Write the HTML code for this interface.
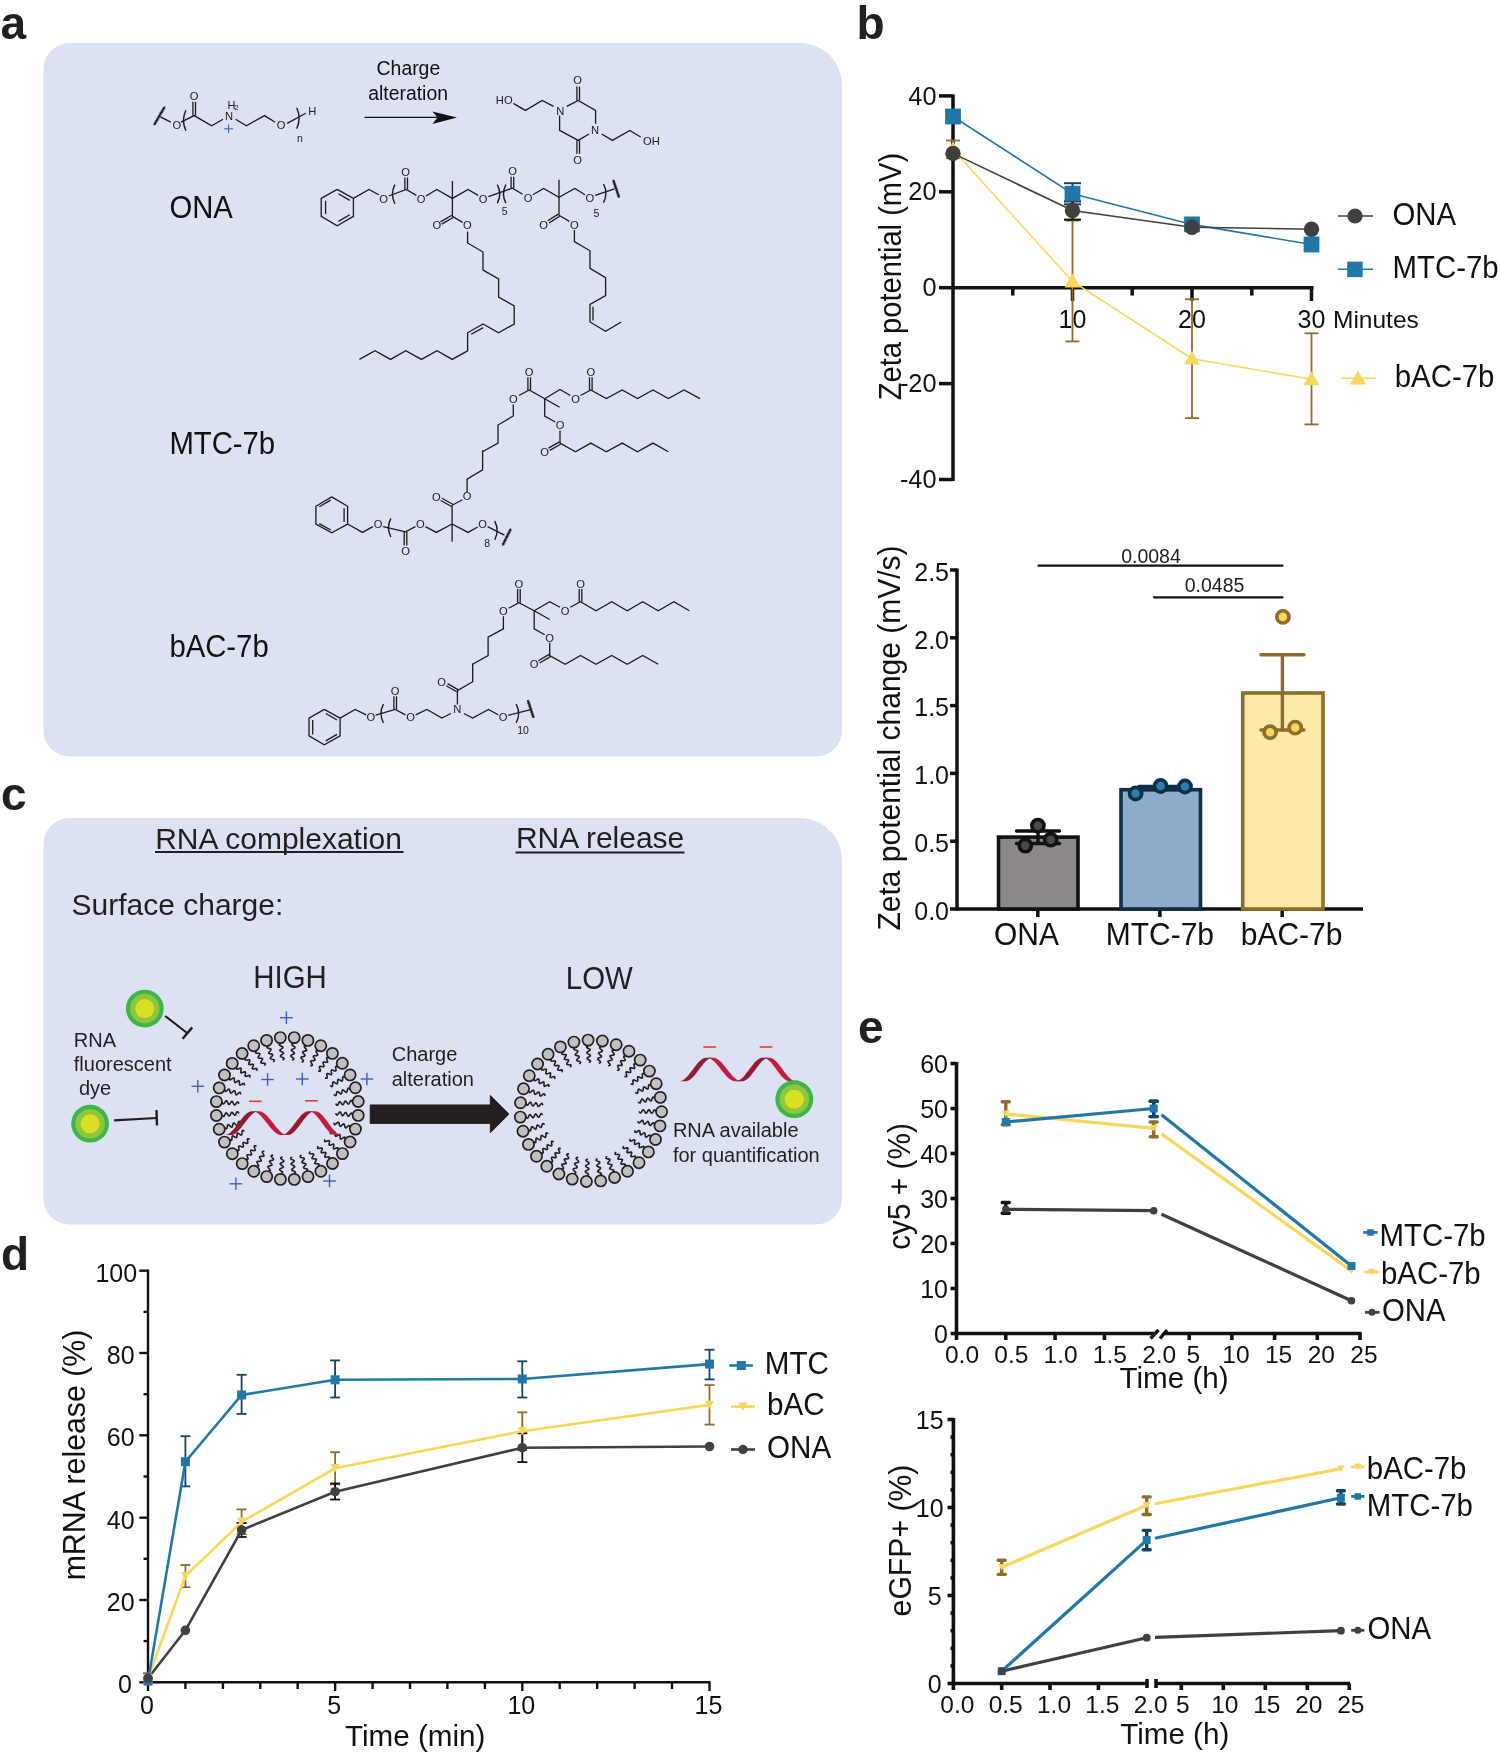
<!DOCTYPE html>
<html><head><meta charset="utf-8"><style>
html,body{margin:0;padding:0;background:#fff;overflow:hidden;}
svg{display:block;font-family:"Liberation Sans", sans-serif;will-change:transform;}
</style></head><body>
<svg width="1500" height="1756" viewBox="0 0 1500 1756">
<rect width="1500" height="1756" fill="#fff"/>
<path d="M69.5,43 L800,43 A42,42 0 0 1 842,85 L842,730.5 A26,26 0 0 1 816,756.5 L69.5,756.5 A26,26 0 0 1 43.5,730.5 L43.5,69 A26,26 0 0 1 69.5,43 Z" fill="#dce1f3"/>
<path d="M69.5,818 L800,818 A42,42 0 0 1 842,860 L842,1198.5 A26,26 0 0 1 816,1224.5 L69.5,1224.5 A26,26 0 0 1 43.5,1198.5 L43.5,844 A26,26 0 0 1 69.5,818 Z" fill="#dce1f3"/>
<text x="0.5" y="39.0" font-size="46" text-anchor="start" fill="#231f20" font-weight="bold" >a</text>
<text x="856.5" y="39.3" font-size="46" text-anchor="start" fill="#231f20" font-weight="bold" >b</text>
<text x="1.0" y="810.0" font-size="46" text-anchor="start" fill="#231f20" font-weight="bold" >c</text>
<text x="1.0" y="1270.0" font-size="46" text-anchor="start" fill="#231f20" font-weight="bold" >d</text>
<text x="858.0" y="1042.5" font-size="46" text-anchor="start" fill="#231f20" font-weight="bold" >e</text>
<line x1="953.0" y1="94.4" x2="953.0" y2="481.0" stroke="#111" stroke-width="3.5" />
<line x1="939.0" y1="95.9" x2="953.0" y2="95.9" stroke="#111" stroke-width="3.5" />
<text x="936.5" y="104.5" font-size="25.3" text-anchor="end" fill="#111" font-weight="normal" >40</text>
<line x1="939.0" y1="191.8" x2="953.0" y2="191.8" stroke="#111" stroke-width="3.5" />
<text x="936.5" y="200.4" font-size="25.3" text-anchor="end" fill="#111" font-weight="normal" >20</text>
<line x1="939.0" y1="287.7" x2="953.0" y2="287.7" stroke="#111" stroke-width="3.5" />
<text x="936.5" y="296.3" font-size="25.3" text-anchor="end" fill="#111" font-weight="normal" >0</text>
<line x1="939.0" y1="383.6" x2="953.0" y2="383.6" stroke="#111" stroke-width="3.5" />
<text x="936.5" y="392.2" font-size="25.3" text-anchor="end" fill="#111" font-weight="normal" >-20</text>
<line x1="939.0" y1="479.5" x2="953.0" y2="479.5" stroke="#111" stroke-width="3.5" />
<text x="936.5" y="488.1" font-size="25.3" text-anchor="end" fill="#111" font-weight="normal" >-40</text>
<line x1="953.0" y1="287.7" x2="1313.5" y2="287.7" stroke="#111" stroke-width="3.5" />
<line x1="1012.8" y1="287.7" x2="1012.8" y2="295.5" stroke="#111" stroke-width="3.5" />
<line x1="1132.2" y1="287.7" x2="1132.2" y2="295.5" stroke="#111" stroke-width="3.5" />
<line x1="1251.8" y1="287.7" x2="1251.8" y2="295.5" stroke="#111" stroke-width="3.5" />
<line x1="1072.5" y1="287.7" x2="1072.5" y2="301.0" stroke="#111" stroke-width="3.5" />
<line x1="1192.0" y1="287.7" x2="1192.0" y2="301.0" stroke="#111" stroke-width="3.5" />
<line x1="1311.5" y1="287.7" x2="1311.5" y2="301.0" stroke="#111" stroke-width="3.5" />
<text x="1072.5" y="327.6" font-size="25" text-anchor="middle" fill="#111" font-weight="normal" >10</text>
<text x="1192.0" y="327.6" font-size="25" text-anchor="middle" fill="#111" font-weight="normal" >20</text>
<text x="1311.5" y="327.6" font-size="25" text-anchor="middle" fill="#111" font-weight="normal" >30</text>
<text x="1333.0" y="327.6" font-size="24.5" text-anchor="start" fill="#111" font-weight="normal" >Minutes</text>
<text transform="translate(901.0,276.5) rotate(-90) scale(1,1.05)" font-size="29.1" text-anchor="middle" fill="#111">Zeta potential (mV)</text>
<line x1="953.0" y1="140.5" x2="953.0" y2="158.2" stroke="#8c6d2c" stroke-width="1.8" />
<line x1="946.0" y1="140.5" x2="960.0" y2="140.5" stroke="#8c6d2c" stroke-width="1.8" />
<line x1="946.0" y1="158.2" x2="960.0" y2="158.2" stroke="#8c6d2c" stroke-width="1.8" />
<line x1="1072.5" y1="220.6" x2="1072.5" y2="341.4" stroke="#8c6d2c" stroke-width="1.8" />
<line x1="1065.5" y1="220.6" x2="1079.5" y2="220.6" stroke="#8c6d2c" stroke-width="1.8" />
<line x1="1065.5" y1="341.4" x2="1079.5" y2="341.4" stroke="#8c6d2c" stroke-width="1.8" />
<line x1="1192.0" y1="299.2" x2="1192.0" y2="418.1" stroke="#8c6d2c" stroke-width="1.8" />
<line x1="1185.0" y1="299.2" x2="1199.0" y2="299.2" stroke="#8c6d2c" stroke-width="1.8" />
<line x1="1185.0" y1="418.1" x2="1199.0" y2="418.1" stroke="#8c6d2c" stroke-width="1.8" />
<line x1="1311.5" y1="333.3" x2="1311.5" y2="424.4" stroke="#8c6d2c" stroke-width="1.8" />
<line x1="1304.5" y1="333.3" x2="1318.5" y2="333.3" stroke="#8c6d2c" stroke-width="1.8" />
<line x1="1304.5" y1="424.4" x2="1318.5" y2="424.4" stroke="#8c6d2c" stroke-width="1.8" />
<polyline points="953.0,149.6 1072.5,281.5 1192.0,358.7 1311.5,379.3" stroke="#fbd65c" stroke-width="1.6" fill="none" />
<line x1="1072.5" y1="183.2" x2="1072.5" y2="204.3" stroke="#15455f" stroke-width="2" />
<line x1="1064.0" y1="183.2" x2="1081.0" y2="183.2" stroke="#15455f" stroke-width="2" />
<line x1="1064.0" y1="204.3" x2="1081.0" y2="204.3" stroke="#15455f" stroke-width="2" />
<line x1="1072.5" y1="201.4" x2="1072.5" y2="219.6" stroke="#111" stroke-width="2" />
<line x1="1064.0" y1="201.4" x2="1081.0" y2="201.4" stroke="#111" stroke-width="2" />
<line x1="1064.0" y1="219.6" x2="1081.0" y2="219.6" stroke="#111" stroke-width="2" />
<polyline points="953.0,116.5 1072.5,193.7 1192.0,224.4 1311.5,244.5" stroke="#2177a7" stroke-width="1.6" fill="none" />
<polyline points="953.0,153.4 1072.5,210.5 1192.0,227.3 1311.5,229.2" stroke="#404040" stroke-width="1.6" fill="none" />
<polygon points="945.0,155.6 961.0,155.6 953.0,141.6" fill="#fbd65c"/>
<polygon points="1064.5,287.4 1080.5,287.4 1072.5,273.5" fill="#fbd65c"/>
<polygon points="1184.0,364.6 1200.0,364.6 1192.0,350.7" fill="#fbd65c"/>
<polygon points="1303.5,385.2 1319.5,385.2 1311.5,371.3" fill="#fbd65c"/>
<rect x="945.1" y="108.6" width="15.8" height="15.8" fill="#2177a7"/>
<rect x="1064.6" y="185.8" width="15.8" height="15.8" fill="#2177a7"/>
<rect x="1184.1" y="216.5" width="15.8" height="15.8" fill="#2177a7"/>
<rect x="1303.6" y="236.6" width="15.8" height="15.8" fill="#2177a7"/>
<circle cx="953.0" cy="153.4" r="7.7" fill="#404040" stroke="none" stroke-width="0"/>
<circle cx="1072.5" cy="210.5" r="7.7" fill="#404040" stroke="none" stroke-width="0"/>
<circle cx="1192.0" cy="227.3" r="7.7" fill="#404040" stroke="none" stroke-width="0"/>
<circle cx="1311.5" cy="229.2" r="7.7" fill="#404040" stroke="none" stroke-width="0"/>
<line x1="1338.0" y1="216.0" x2="1373.0" y2="216.0" stroke="#404040" stroke-width="1.6" />
<circle cx="1355.0" cy="216.0" r="7.6" fill="#404040" stroke="none" stroke-width="0"/>
<text transform="translate(1392.5,225.2) scale(1,1.07)" font-size="29.4" text-anchor="start" fill="#111" font-weight="normal" >ONA</text>
<line x1="1338.0" y1="269.3" x2="1373.0" y2="269.3" stroke="#2177a7" stroke-width="1.6" />
<rect x="1347.2" y="261.6" width="15.5" height="15.5" fill="#2177a7"/>
<text transform="translate(1392.5,277.6) scale(1,1.07)" font-size="29.4" text-anchor="start" fill="#111" font-weight="normal" >MTC-7b</text>
<line x1="1341.0" y1="378.2" x2="1376.0" y2="378.2" stroke="#fbd65c" stroke-width="1.6" />
<polygon points="1350.0,384.5 1366.0,384.5 1358.0,370.5" fill="#fbd65c"/>
<text transform="translate(1394.7,387.0) scale(1,1.07)" font-size="29.4" text-anchor="start" fill="#111" font-weight="normal" >bAC-7b</text>
<line x1="957.0" y1="568.5" x2="957.0" y2="910.5" stroke="#111" stroke-width="3.5" />
<line x1="950.0" y1="909.0" x2="957.0" y2="909.0" stroke="#111" stroke-width="3.5" />
<text x="949.0" y="919.8" font-size="25" text-anchor="end" fill="#111" font-weight="normal" >0.0</text>
<line x1="950.0" y1="841.2" x2="957.0" y2="841.2" stroke="#111" stroke-width="3.5" />
<text x="949.0" y="852.0" font-size="25" text-anchor="end" fill="#111" font-weight="normal" >0.5</text>
<line x1="950.0" y1="773.4" x2="957.0" y2="773.4" stroke="#111" stroke-width="3.5" />
<text x="949.0" y="784.2" font-size="25" text-anchor="end" fill="#111" font-weight="normal" >1.0</text>
<line x1="950.0" y1="705.6" x2="957.0" y2="705.6" stroke="#111" stroke-width="3.5" />
<text x="949.0" y="716.4" font-size="25" text-anchor="end" fill="#111" font-weight="normal" >1.5</text>
<line x1="950.0" y1="637.8" x2="957.0" y2="637.8" stroke="#111" stroke-width="3.5" />
<text x="949.0" y="648.6" font-size="25" text-anchor="end" fill="#111" font-weight="normal" >2.0</text>
<line x1="950.0" y1="570.0" x2="957.0" y2="570.0" stroke="#111" stroke-width="3.5" />
<text x="949.0" y="580.8" font-size="25" text-anchor="end" fill="#111" font-weight="normal" >2.5</text>
<line x1="957.0" y1="909.0" x2="1363.0" y2="909.0" stroke="#111" stroke-width="3.5" />
<line x1="1037.8" y1="909.0" x2="1037.8" y2="917.0" stroke="#111" stroke-width="3.5" />
<line x1="1159.9" y1="909.0" x2="1159.9" y2="917.0" stroke="#111" stroke-width="3.5" />
<line x1="1282.2" y1="909.0" x2="1282.2" y2="917.0" stroke="#111" stroke-width="3.5" />
<text transform="translate(1026.4,944.5) scale(1,1.07)" font-size="30" text-anchor="middle" fill="#111" font-weight="normal" >ONA</text>
<text transform="translate(1159.9,944.5) scale(1,1.07)" font-size="30" text-anchor="middle" fill="#111" font-weight="normal" >MTC-7b</text>
<text transform="translate(1291.6,944.5) scale(1,1.07)" font-size="30" text-anchor="middle" fill="#111" font-weight="normal" >bAC-7b</text>
<text transform="translate(900.0,738.0) rotate(-90) scale(1,1.05)" font-size="30" text-anchor="middle" fill="#111">Zeta potential change (mV/s)</text>
<rect x="998.5" y="837.1" width="79.5" height="71.9" fill="#8c8888" stroke="#111" stroke-width="3.6"/>
<rect x="1121" y="789.7" width="79.5" height="119.3" fill="#8eabcb" stroke="#0b3148" stroke-width="3.6"/>
<rect x="1242.7" y="693.0" width="80.29999999999995" height="216.0" fill="#fde9a8" stroke="#8c6d2c" stroke-width="3.6"/>
<line x1="1282.4" y1="654.7" x2="1282.4" y2="730.0" stroke="#8c6d2c" stroke-width="3.4" />
<line x1="1260.9" y1="654.7" x2="1303.9" y2="654.7" stroke="#8c6d2c" stroke-width="3.4" stroke-linecap="round"/>
<line x1="1260.9" y1="730.0" x2="1303.9" y2="730.0" stroke="#8c6d2c" stroke-width="3.4" stroke-linecap="round"/>
<line x1="1038.0" y1="831.0" x2="1038.0" y2="843.5" stroke="#111" stroke-width="3.4" />
<line x1="1016.5" y1="831.0" x2="1059.5" y2="831.0" stroke="#111" stroke-width="3.4" stroke-linecap="round"/>
<line x1="1016.5" y1="843.5" x2="1059.5" y2="843.5" stroke="#111" stroke-width="3.4" stroke-linecap="round"/>
<line x1="1160.5" y1="786.5" x2="1160.5" y2="789.5" stroke="#0b3148" stroke-width="3.4" />
<line x1="1139.0" y1="786.5" x2="1182.0" y2="786.5" stroke="#0b3148" stroke-width="3.4" stroke-linecap="round"/>
<line x1="1139.0" y1="789.5" x2="1182.0" y2="789.5" stroke="#0b3148" stroke-width="3.4" stroke-linecap="round"/>
<circle cx="1037.9" cy="825.6" r="6.1" fill="#4a4a4a" stroke="#111" stroke-width="3.6"/>
<circle cx="1025.3" cy="845.6" r="6.1" fill="#4a4a4a" stroke="#111" stroke-width="3.6"/>
<circle cx="1050.7" cy="839.7" r="6.1" fill="#4a4a4a" stroke="#111" stroke-width="3.6"/>
<circle cx="1135.6" cy="793.5" r="6.1" fill="#2a7fb0" stroke="#0b3148" stroke-width="3.6"/>
<circle cx="1160.6" cy="786.0" r="6.1" fill="#2a7fb0" stroke="#0b3148" stroke-width="3.6"/>
<circle cx="1185.0" cy="786.5" r="6.1" fill="#2a7fb0" stroke="#0b3148" stroke-width="3.6"/>
<circle cx="1282.9" cy="616.9" r="6.1" fill="#f8d65a" stroke="#8c6d2c" stroke-width="3.6"/>
<circle cx="1270.1" cy="732.2" r="6.1" fill="#f8d65a" stroke="#8c6d2c" stroke-width="3.6"/>
<circle cx="1295.2" cy="727.6" r="6.1" fill="#f8d65a" stroke="#8c6d2c" stroke-width="3.6"/>
<line x1="1038.5" y1="565.7" x2="1282.5" y2="565.7" stroke="#111" stroke-width="2.2" stroke-linecap="round"/>
<line x1="1154.0" y1="597.3" x2="1282.5" y2="597.3" stroke="#111" stroke-width="2.2" stroke-linecap="round"/>
<text x="1151.0" y="563.0" font-size="19.5" text-anchor="middle" fill="#222" font-weight="normal" >0.0084</text>
<text x="1214.6" y="592.4" font-size="19.5" text-anchor="middle" fill="#222" font-weight="normal" >0.0485</text>
<text x="155.2" y="848.7" font-size="30" text-anchor="start" fill="#231f20" font-weight="normal" >RNA complexation</text>
<line x1="155.0" y1="852.0" x2="403.5" y2="852.0" stroke="#231f20" stroke-width="1.8" />
<text x="515.9" y="848.4" font-size="30" text-anchor="start" fill="#231f20" font-weight="normal" >RNA release</text>
<line x1="515.5" y1="852.5" x2="684.5" y2="852.5" stroke="#231f20" stroke-width="1.8" />
<text x="71.5" y="915.3" font-size="30" text-anchor="start" fill="#231f20" font-weight="normal" >Surface charge:</text>
<text transform="translate(253.3,988.0) scale(1,1.07)" font-size="29.4" text-anchor="start" fill="#231f20" font-weight="normal" >HIGH</text>
<text transform="translate(565.8,988.5) scale(1,1.07)" font-size="29.4" text-anchor="start" fill="#231f20" font-weight="normal" >LOW</text>
<text x="73.8" y="1047.0" font-size="20.0" text-anchor="start" fill="#231f20" font-weight="normal" >RNA</text>
<text x="73.8" y="1070.5" font-size="20.0" text-anchor="start" fill="#231f20" font-weight="normal" >fluorescent</text>
<text x="79.0" y="1095.4" font-size="20.0" text-anchor="start" fill="#231f20" font-weight="normal" >dye</text>
<text x="391.7" y="1061.0" font-size="20.0" text-anchor="start" fill="#231f20" font-weight="normal" >Charge</text>
<text x="391.7" y="1085.5" font-size="20.0" text-anchor="start" fill="#231f20" font-weight="normal" >alteration</text>
<text x="672.9" y="1136.9" font-size="20.0" text-anchor="start" fill="#231f20" font-weight="normal" >RNA available</text>
<text x="672.9" y="1161.6" font-size="20.0" text-anchor="start" fill="#231f20" font-weight="normal" >for quantification</text>
<polyline points="293.7,1043.2 292.7,1043.7 292.0,1044.2 291.9,1044.7 292.5,1045.4 293.4,1046.0 294.4,1046.7 294.9,1047.3 294.9,1047.9 294.2,1048.4 293.1,1048.9 292.1,1049.3 291.4,1049.8 291.4,1050.4 291.9,1051.0 292.9,1051.7 293.8,1052.3 294.4,1053.0 294.3,1053.5 293.6,1054.0 292.6,1054.5 291.5,1055.0 290.9,1055.5 290.8,1056.0 291.4,1056.7 292.3,1057.3 293.3,1058.0 293.8,1058.6 293.8,1059.2 293.1,1059.7 292.0,1060.1" stroke="#231f20" stroke-width="1.6" fill="none" />
<polyline points="306.3,1045.7 305.2,1046.0 304.4,1046.3 304.3,1046.9 304.7,1047.6 305.5,1048.4 306.3,1049.3 306.7,1050.0 306.5,1050.5 305.8,1050.9 304.7,1051.1 303.6,1051.4 302.8,1051.8 302.6,1052.3 303.1,1053.0 303.9,1053.9 304.6,1054.7 305.1,1055.4 304.9,1055.9 304.2,1056.3 303.0,1056.6 301.9,1056.8 301.2,1057.2 301.0,1057.7 301.4,1058.4 302.2,1059.3 303.0,1060.1 303.4,1060.8 303.3,1061.4 302.5,1061.7 301.4,1062.0" stroke="#231f20" stroke-width="1.6" fill="none" />
<polyline points="318.2,1050.6 317.1,1050.7 316.2,1050.9 316.0,1051.4 316.2,1052.2 316.9,1053.1 317.5,1054.1 317.8,1054.9 317.5,1055.4 316.7,1055.6 315.5,1055.6 314.4,1055.7 313.6,1055.9 313.3,1056.4 313.6,1057.2 314.2,1058.1 314.8,1059.1 315.1,1059.9 314.8,1060.4 314.0,1060.6 312.9,1060.6 311.7,1060.7 310.9,1060.9 310.6,1061.4 310.9,1062.2 311.5,1063.1 312.1,1064.1 312.4,1064.9 312.2,1065.4 311.3,1065.6 310.2,1065.6" stroke="#231f20" stroke-width="1.6" fill="none" />
<polyline points="328.9,1057.8 327.8,1057.6 326.9,1057.6 326.6,1058.1 326.7,1058.9 327.1,1060.0 327.5,1061.0 327.6,1061.9 327.3,1062.3 326.4,1062.3 325.3,1062.2 324.2,1062.0 323.3,1062.0 323.0,1062.4 323.1,1063.3 323.5,1064.3 323.9,1065.4 324.0,1066.2 323.7,1066.7 322.8,1066.7 321.7,1066.5 320.6,1066.3 319.7,1066.4 319.4,1066.8 319.5,1067.7 319.9,1068.7 320.3,1069.8 320.4,1070.6 320.1,1071.1 319.2,1071.1 318.1,1070.9" stroke="#231f20" stroke-width="1.6" fill="none" />
<polyline points="338.0,1066.9 336.9,1066.4 336.1,1066.3 335.7,1066.7 335.6,1067.5 335.8,1068.7 336.0,1069.8 336.0,1070.6 335.5,1071.0 334.7,1070.9 333.6,1070.5 332.5,1070.0 331.7,1069.9 331.3,1070.3 331.2,1071.1 331.4,1072.3 331.6,1073.4 331.6,1074.2 331.1,1074.6 330.3,1074.5 329.2,1074.1 328.2,1073.6 327.3,1073.5 326.9,1073.9 326.8,1074.7 327.0,1075.9 327.2,1077.0 327.2,1077.8 326.8,1078.2 325.9,1078.1 324.9,1077.7" stroke="#231f20" stroke-width="1.6" fill="none" />
<polyline points="345.1,1077.6 344.2,1076.9 343.4,1076.7 342.9,1076.9 342.7,1077.7 342.6,1078.9 342.6,1080.0 342.4,1080.8 341.9,1081.1 341.1,1080.8 340.1,1080.2 339.2,1079.6 338.4,1079.3 337.9,1079.6 337.7,1080.4 337.6,1081.6 337.6,1082.7 337.4,1083.5 336.9,1083.8 336.1,1083.5 335.1,1082.9 334.2,1082.3 333.4,1082.0 332.9,1082.3 332.7,1083.1 332.6,1084.2 332.6,1085.4 332.4,1086.2 331.9,1086.5 331.1,1086.2 330.2,1085.6" stroke="#231f20" stroke-width="1.6" fill="none" />
<polyline points="350.1,1089.4 349.2,1088.6 348.5,1088.2 348.0,1088.4 347.6,1089.1 347.4,1090.3 347.1,1091.4 346.7,1092.1 346.2,1092.3 345.5,1091.9 344.6,1091.1 343.8,1090.3 343.1,1089.9 342.5,1090.0 342.2,1090.8 341.9,1091.9 341.7,1093.0 341.3,1093.8 340.8,1093.9 340.1,1093.5 339.2,1092.7 338.4,1091.9 337.7,1091.5 337.1,1091.7 336.8,1092.4 336.5,1093.5 336.3,1094.7 335.9,1095.4 335.4,1095.6 334.6,1095.2 333.8,1094.4" stroke="#231f20" stroke-width="1.6" fill="none" />
<polyline points="352.6,1102.0 351.9,1101.1 351.3,1100.5 350.7,1100.6 350.2,1101.3 349.8,1102.3 349.3,1103.4 348.8,1104.0 348.2,1104.1 347.6,1103.5 346.9,1102.6 346.3,1101.7 345.7,1101.1 345.1,1101.2 344.6,1101.8 344.1,1102.9 343.7,1103.9 343.2,1104.6 342.6,1104.7 342.0,1104.1 341.3,1103.2 340.6,1102.2 340.0,1101.7 339.5,1101.7 338.9,1102.4 338.5,1103.4 338.0,1104.5 337.5,1105.2 337.0,1105.2 336.3,1104.7 335.7,1103.7" stroke="#231f20" stroke-width="1.6" fill="none" />
<polyline points="352.6,1114.9 352.1,1113.9 351.6,1113.2 351.1,1113.1 350.4,1113.7 349.8,1114.6 349.1,1115.6 348.5,1116.1 347.9,1116.1 347.4,1115.4 346.9,1114.3 346.5,1113.3 346.0,1112.6 345.4,1112.6 344.8,1113.1 344.1,1114.1 343.5,1115.0 342.8,1115.6 342.3,1115.5 341.8,1114.8 341.3,1113.8 340.8,1112.7 340.3,1112.1 339.8,1112.0 339.1,1112.6 338.5,1113.5 337.8,1114.5 337.2,1115.0 336.6,1115.0 336.1,1114.3 335.7,1113.2" stroke="#231f20" stroke-width="1.6" fill="none" />
<polyline points="350.1,1127.5 349.8,1126.4 349.5,1125.6 348.9,1125.5 348.2,1125.9 347.4,1126.7 346.5,1127.5 345.8,1127.9 345.3,1127.7 344.9,1127.0 344.7,1125.9 344.4,1124.8 344.0,1124.0 343.5,1123.8 342.8,1124.3 341.9,1125.1 341.1,1125.8 340.4,1126.3 339.9,1126.1 339.5,1125.4 339.2,1124.2 339.0,1123.1 338.6,1122.4 338.1,1122.2 337.4,1122.6 336.5,1123.4 335.7,1124.2 335.0,1124.6 334.4,1124.5 334.1,1123.7 333.8,1122.6" stroke="#231f20" stroke-width="1.6" fill="none" />
<polyline points="345.2,1139.4 345.1,1138.3 344.9,1137.4 344.4,1137.2 343.6,1137.4 342.7,1138.1 341.7,1138.7 340.9,1139.0 340.4,1138.7 340.2,1137.9 340.2,1136.7 340.1,1135.6 339.9,1134.8 339.4,1134.5 338.6,1134.8 337.7,1135.4 336.7,1136.0 335.9,1136.3 335.4,1136.0 335.2,1135.2 335.2,1134.1 335.1,1132.9 334.9,1132.1 334.4,1131.8 333.6,1132.1 332.7,1132.7 331.7,1133.3 330.9,1133.6 330.4,1133.4 330.2,1132.5 330.2,1131.4" stroke="#231f20" stroke-width="1.6" fill="none" />
<polyline points="338.0,1150.1 338.2,1149.0 338.2,1148.1 337.7,1147.8 336.9,1147.9 335.8,1148.3 334.8,1148.7 333.9,1148.8 333.5,1148.5 333.5,1147.6 333.6,1146.5 333.8,1145.4 333.8,1144.5 333.4,1144.2 332.5,1144.3 331.5,1144.7 330.4,1145.1 329.6,1145.2 329.1,1144.9 329.1,1144.0 329.3,1142.9 329.5,1141.8 329.4,1140.9 329.0,1140.6 328.1,1140.7 327.1,1141.1 326.0,1141.5 325.2,1141.6 324.7,1141.3 324.7,1140.4 324.9,1139.3" stroke="#231f20" stroke-width="1.6" fill="none" />
<polyline points="328.9,1159.2 329.4,1158.1 329.5,1157.3 329.1,1156.9 328.3,1156.8 327.1,1157.0 326.0,1157.2 325.2,1157.2 324.8,1156.7 324.9,1155.9 325.3,1154.8 325.8,1153.7 325.9,1152.9 325.5,1152.5 324.7,1152.4 323.5,1152.6 322.4,1152.8 321.6,1152.8 321.2,1152.3 321.3,1151.5 321.7,1150.4 322.2,1149.4 322.3,1148.5 321.9,1148.1 321.1,1148.0 319.9,1148.2 318.8,1148.4 318.0,1148.4 317.6,1148.0 317.7,1147.1 318.1,1146.1" stroke="#231f20" stroke-width="1.6" fill="none" />
<polyline points="318.2,1166.3 318.9,1165.4 319.1,1164.6 318.9,1164.1 318.1,1163.9 316.9,1163.8 315.8,1163.8 315.0,1163.6 314.7,1163.1 315.0,1162.3 315.6,1161.3 316.2,1160.4 316.5,1159.6 316.2,1159.1 315.4,1158.9 314.2,1158.8 313.1,1158.8 312.3,1158.6 312.0,1158.1 312.3,1157.3 312.9,1156.3 313.5,1155.4 313.8,1154.6 313.5,1154.1 312.7,1153.9 311.6,1153.8 310.4,1153.8 309.6,1153.6 309.3,1153.1 309.6,1152.3 310.2,1151.4" stroke="#231f20" stroke-width="1.6" fill="none" />
<polyline points="306.4,1171.3 307.2,1170.4 307.6,1169.7 307.4,1169.2 306.7,1168.8 305.5,1168.6 304.4,1168.3 303.7,1167.9 303.5,1167.4 303.9,1166.7 304.7,1165.8 305.5,1165.0 305.9,1164.3 305.8,1163.7 305.0,1163.4 303.9,1163.1 302.8,1162.9 302.0,1162.5 301.9,1162.0 302.3,1161.3 303.1,1160.4 303.9,1159.6 304.3,1158.9 304.1,1158.3 303.4,1158.0 302.3,1157.7 301.1,1157.5 300.4,1157.1 300.2,1156.6 300.6,1155.8 301.4,1155.0" stroke="#231f20" stroke-width="1.6" fill="none" />
<polyline points="293.8,1173.8 294.7,1173.1 295.3,1172.5 295.2,1171.9 294.5,1171.4 293.5,1171.0 292.4,1170.5 291.8,1170.0 291.7,1169.4 292.3,1168.8 293.2,1168.1 294.1,1167.5 294.7,1166.9 294.6,1166.3 294.0,1165.8 292.9,1165.3 291.9,1164.9 291.2,1164.4 291.1,1163.8 291.7,1163.2 292.6,1162.5 293.6,1161.8 294.1,1161.2 294.1,1160.7 293.4,1160.1 292.4,1159.7 291.3,1159.2 290.6,1158.7 290.6,1158.2 291.1,1157.5 292.1,1156.9" stroke="#231f20" stroke-width="1.6" fill="none" />
<polyline points="280.9,1173.8 281.9,1173.3 282.6,1172.8 282.7,1172.3 282.1,1171.6 281.2,1171.0 280.2,1170.3 279.7,1169.7 279.7,1169.1 280.4,1168.6 281.5,1168.1 282.5,1167.7 283.2,1167.2 283.2,1166.6 282.7,1166.0 281.7,1165.3 280.8,1164.7 280.2,1164.0 280.3,1163.5 281.0,1163.0 282.0,1162.5 283.1,1162.0 283.7,1161.5 283.8,1161.0 283.2,1160.3 282.3,1159.7 281.3,1159.0 280.8,1158.4 280.8,1157.8 281.5,1157.3 282.6,1156.9" stroke="#231f20" stroke-width="1.6" fill="none" />
<polyline points="268.3,1171.3 269.4,1171.0 270.2,1170.7 270.3,1170.1 269.9,1169.4 269.1,1168.6 268.3,1167.7 267.9,1167.0 268.1,1166.5 268.8,1166.1 269.9,1165.9 271.0,1165.6 271.8,1165.2 272.0,1164.7 271.5,1164.0 270.7,1163.1 270.0,1162.3 269.5,1161.6 269.7,1161.1 270.4,1160.7 271.6,1160.4 272.7,1160.2 273.4,1159.8 273.6,1159.3 273.2,1158.6 272.4,1157.7 271.6,1156.9 271.2,1156.2 271.3,1155.6 272.1,1155.3 273.2,1155.0" stroke="#231f20" stroke-width="1.6" fill="none" />
<polyline points="256.4,1166.4 257.5,1166.3 258.4,1166.1 258.6,1165.6 258.4,1164.8 257.7,1163.9 257.1,1162.9 256.8,1162.1 257.1,1161.6 257.9,1161.4 259.1,1161.4 260.2,1161.3 261.0,1161.1 261.3,1160.6 261.0,1159.8 260.4,1158.9 259.8,1157.9 259.5,1157.1 259.8,1156.6 260.6,1156.4 261.7,1156.4 262.9,1156.3 263.7,1156.1 264.0,1155.6 263.7,1154.8 263.1,1153.9 262.5,1152.9 262.2,1152.1 262.4,1151.6 263.3,1151.4 264.4,1151.4" stroke="#231f20" stroke-width="1.6" fill="none" />
<polyline points="245.7,1159.2 246.8,1159.4 247.7,1159.4 248.0,1158.9 247.9,1158.1 247.5,1157.0 247.1,1156.0 247.0,1155.1 247.3,1154.7 248.2,1154.7 249.3,1154.8 250.4,1155.0 251.3,1155.0 251.6,1154.6 251.5,1153.7 251.1,1152.7 250.7,1151.6 250.6,1150.8 250.9,1150.3 251.8,1150.3 252.9,1150.5 254.0,1150.7 254.9,1150.6 255.2,1150.2 255.1,1149.3 254.7,1148.3 254.3,1147.2 254.2,1146.4 254.5,1145.9 255.4,1145.9 256.5,1146.1" stroke="#231f20" stroke-width="1.6" fill="none" />
<polyline points="236.6,1150.1 237.7,1150.6 238.5,1150.7 238.9,1150.3 239.0,1149.5 238.8,1148.3 238.6,1147.2 238.6,1146.4 239.1,1146.0 239.9,1146.1 241.0,1146.5 242.1,1147.0 242.9,1147.1 243.3,1146.7 243.4,1145.9 243.2,1144.7 243.0,1143.6 243.0,1142.8 243.5,1142.4 244.3,1142.5 245.4,1142.9 246.4,1143.4 247.3,1143.5 247.7,1143.1 247.8,1142.3 247.6,1141.1 247.4,1140.0 247.4,1139.2 247.8,1138.8 248.7,1138.9 249.7,1139.3" stroke="#231f20" stroke-width="1.6" fill="none" />
<polyline points="229.5,1139.4 230.4,1140.1 231.2,1140.3 231.7,1140.1 231.9,1139.3 232.0,1138.1 232.0,1137.0 232.2,1136.2 232.7,1135.9 233.5,1136.2 234.5,1136.8 235.4,1137.4 236.2,1137.7 236.7,1137.4 236.9,1136.6 237.0,1135.4 237.0,1134.3 237.2,1133.5 237.7,1133.2 238.5,1133.5 239.5,1134.1 240.4,1134.7 241.2,1135.0 241.7,1134.7 241.9,1133.9 242.0,1132.8 242.0,1131.6 242.2,1130.8 242.7,1130.5 243.5,1130.8 244.4,1131.4" stroke="#231f20" stroke-width="1.6" fill="none" />
<polyline points="224.5,1127.6 225.4,1128.4 226.1,1128.8 226.6,1128.6 227.0,1127.9 227.2,1126.7 227.5,1125.6 227.9,1124.9 228.4,1124.7 229.1,1125.1 230.0,1125.9 230.8,1126.7 231.5,1127.1 232.1,1127.0 232.4,1126.2 232.7,1125.1 232.9,1124.0 233.3,1123.2 233.8,1123.1 234.5,1123.5 235.4,1124.3 236.2,1125.1 236.9,1125.5 237.5,1125.3 237.8,1124.6 238.1,1123.5 238.3,1122.3 238.7,1121.6 239.2,1121.4 240.0,1121.8 240.8,1122.6" stroke="#231f20" stroke-width="1.6" fill="none" />
<polyline points="222.0,1115.0 222.7,1115.9 223.3,1116.5 223.9,1116.4 224.4,1115.7 224.8,1114.7 225.3,1113.6 225.8,1113.0 226.4,1112.9 227.0,1113.5 227.7,1114.4 228.3,1115.3 228.9,1115.9 229.5,1115.8 230.0,1115.2 230.5,1114.1 230.9,1113.1 231.4,1112.4 232.0,1112.3 232.6,1112.9 233.3,1113.8 234.0,1114.8 234.6,1115.3 235.1,1115.3 235.7,1114.6 236.1,1113.6 236.6,1112.5 237.1,1111.8 237.6,1111.8 238.3,1112.3 238.9,1113.3" stroke="#231f20" stroke-width="1.6" fill="none" />
<polyline points="222.0,1102.1 222.5,1103.1 223.0,1103.8 223.5,1103.9 224.2,1103.3 224.8,1102.4 225.5,1101.4 226.1,1100.9 226.7,1100.9 227.2,1101.6 227.7,1102.7 228.1,1103.7 228.6,1104.4 229.2,1104.4 229.8,1103.9 230.5,1102.9 231.1,1102.0 231.8,1101.4 232.3,1101.5 232.8,1102.2 233.3,1103.2 233.8,1104.3 234.3,1104.9 234.8,1105.0 235.5,1104.4 236.1,1103.5 236.8,1102.5 237.4,1102.0 238.0,1102.0 238.5,1102.7 238.9,1103.8" stroke="#231f20" stroke-width="1.6" fill="none" />
<polyline points="224.5,1089.5 224.8,1090.6 225.1,1091.4 225.7,1091.5 226.4,1091.1 227.2,1090.3 228.1,1089.5 228.8,1089.1 229.3,1089.3 229.7,1090.0 229.9,1091.1 230.2,1092.2 230.6,1093.0 231.1,1093.2 231.8,1092.7 232.7,1091.9 233.5,1091.2 234.2,1090.7 234.7,1090.9 235.1,1091.6 235.4,1092.8 235.6,1093.9 236.0,1094.6 236.5,1094.8 237.2,1094.4 238.1,1093.6 238.9,1092.8 239.6,1092.4 240.2,1092.5 240.5,1093.3 240.8,1094.4" stroke="#231f20" stroke-width="1.6" fill="none" />
<polyline points="229.4,1077.6 229.5,1078.7 229.7,1079.6 230.2,1079.8 231.0,1079.6 231.9,1078.9 232.9,1078.3 233.7,1078.0 234.2,1078.3 234.4,1079.1 234.4,1080.3 234.5,1081.4 234.7,1082.2 235.2,1082.5 236.0,1082.2 236.9,1081.6 237.9,1081.0 238.7,1080.7 239.2,1081.0 239.4,1081.8 239.4,1082.9 239.5,1084.1 239.7,1084.9 240.2,1085.2 241.0,1084.9 241.9,1084.3 242.9,1083.7 243.7,1083.4 244.2,1083.6 244.4,1084.5 244.4,1085.6" stroke="#231f20" stroke-width="1.6" fill="none" />
<polyline points="236.6,1066.9 236.4,1068.0 236.4,1068.9 236.9,1069.2 237.7,1069.1 238.8,1068.7 239.8,1068.3 240.7,1068.2 241.1,1068.5 241.1,1069.4 241.0,1070.5 240.8,1071.6 240.8,1072.5 241.2,1072.8 242.1,1072.7 243.1,1072.3 244.2,1071.9 245.0,1071.8 245.5,1072.1 245.5,1073.0 245.3,1074.1 245.1,1075.2 245.2,1076.1 245.6,1076.4 246.5,1076.3 247.5,1075.9 248.6,1075.5 249.4,1075.4 249.9,1075.7 249.9,1076.6 249.7,1077.7" stroke="#231f20" stroke-width="1.6" fill="none" />
<polyline points="245.7,1057.8 245.2,1058.9 245.1,1059.7 245.5,1060.1 246.3,1060.2 247.5,1060.0 248.6,1059.8 249.4,1059.8 249.8,1060.3 249.7,1061.1 249.3,1062.2 248.8,1063.3 248.7,1064.1 249.1,1064.5 249.9,1064.6 251.1,1064.4 252.2,1064.2 253.0,1064.2 253.4,1064.7 253.3,1065.5 252.9,1066.6 252.4,1067.6 252.3,1068.5 252.7,1068.9 253.5,1069.0 254.7,1068.8 255.8,1068.6 256.6,1068.6 257.0,1069.0 256.9,1069.9 256.5,1070.9" stroke="#231f20" stroke-width="1.6" fill="none" />
<polyline points="256.4,1050.7 255.7,1051.6 255.5,1052.4 255.7,1052.9 256.5,1053.1 257.7,1053.2 258.8,1053.2 259.6,1053.4 259.9,1053.9 259.6,1054.7 259.0,1055.7 258.4,1056.6 258.1,1057.4 258.4,1057.9 259.2,1058.1 260.4,1058.2 261.5,1058.2 262.3,1058.4 262.6,1058.9 262.3,1059.7 261.7,1060.7 261.1,1061.6 260.8,1062.4 261.1,1062.9 261.9,1063.1 263.0,1063.2 264.2,1063.2 265.0,1063.4 265.3,1063.9 265.0,1064.7 264.4,1065.6" stroke="#231f20" stroke-width="1.6" fill="none" />
<polyline points="268.2,1045.7 267.4,1046.6 267.0,1047.3 267.2,1047.8 267.9,1048.2 269.1,1048.4 270.2,1048.7 270.9,1049.1 271.1,1049.6 270.7,1050.3 269.9,1051.2 269.1,1052.0 268.7,1052.7 268.8,1053.3 269.6,1053.6 270.7,1053.9 271.8,1054.1 272.6,1054.5 272.7,1055.0 272.3,1055.7 271.5,1056.6 270.7,1057.4 270.3,1058.1 270.5,1058.7 271.2,1059.0 272.3,1059.3 273.5,1059.5 274.2,1059.9 274.4,1060.4 274.0,1061.2 273.2,1062.0" stroke="#231f20" stroke-width="1.6" fill="none" />
<polyline points="280.8,1043.2 279.9,1043.9 279.3,1044.5 279.4,1045.1 280.1,1045.6 281.1,1046.0 282.2,1046.5 282.8,1047.0 282.9,1047.6 282.3,1048.2 281.4,1048.9 280.5,1049.5 279.9,1050.1 280.0,1050.7 280.6,1051.2 281.7,1051.7 282.7,1052.1 283.4,1052.6 283.5,1053.2 282.9,1053.8 282.0,1054.5 281.0,1055.2 280.5,1055.8 280.5,1056.3 281.2,1056.9 282.2,1057.3 283.3,1057.8 284.0,1058.3 284.0,1058.8 283.5,1059.5 282.5,1060.1" stroke="#231f20" stroke-width="1.6" fill="none" />
<circle cx="294.2" cy="1037.6" r="5.6" fill="#c0c0c0" stroke="#231f20" stroke-width="1.7"/>
<circle cx="307.9" cy="1040.4" r="5.6" fill="#c0c0c0" stroke="#231f20" stroke-width="1.7"/>
<circle cx="320.8" cy="1045.7" r="5.6" fill="#c0c0c0" stroke="#231f20" stroke-width="1.7"/>
<circle cx="332.4" cy="1053.4" r="5.6" fill="#c0c0c0" stroke="#231f20" stroke-width="1.7"/>
<circle cx="342.3" cy="1063.3" r="5.6" fill="#c0c0c0" stroke="#231f20" stroke-width="1.7"/>
<circle cx="350.1" cy="1074.9" r="5.6" fill="#c0c0c0" stroke="#231f20" stroke-width="1.7"/>
<circle cx="355.4" cy="1087.8" r="5.6" fill="#c0c0c0" stroke="#231f20" stroke-width="1.7"/>
<circle cx="358.2" cy="1101.5" r="5.6" fill="#c0c0c0" stroke="#231f20" stroke-width="1.7"/>
<circle cx="358.2" cy="1115.4" r="5.6" fill="#c0c0c0" stroke="#231f20" stroke-width="1.7"/>
<circle cx="355.4" cy="1129.1" r="5.6" fill="#c0c0c0" stroke="#231f20" stroke-width="1.7"/>
<circle cx="350.1" cy="1142.0" r="5.6" fill="#c0c0c0" stroke="#231f20" stroke-width="1.7"/>
<circle cx="342.4" cy="1153.6" r="5.6" fill="#c0c0c0" stroke="#231f20" stroke-width="1.7"/>
<circle cx="332.5" cy="1163.5" r="5.6" fill="#c0c0c0" stroke="#231f20" stroke-width="1.7"/>
<circle cx="320.9" cy="1171.3" r="5.6" fill="#c0c0c0" stroke="#231f20" stroke-width="1.7"/>
<circle cx="308.0" cy="1176.6" r="5.6" fill="#c0c0c0" stroke="#231f20" stroke-width="1.7"/>
<circle cx="294.3" cy="1179.4" r="5.6" fill="#c0c0c0" stroke="#231f20" stroke-width="1.7"/>
<circle cx="280.4" cy="1179.4" r="5.6" fill="#c0c0c0" stroke="#231f20" stroke-width="1.7"/>
<circle cx="266.7" cy="1176.6" r="5.6" fill="#c0c0c0" stroke="#231f20" stroke-width="1.7"/>
<circle cx="253.8" cy="1171.3" r="5.6" fill="#c0c0c0" stroke="#231f20" stroke-width="1.7"/>
<circle cx="242.2" cy="1163.6" r="5.6" fill="#c0c0c0" stroke="#231f20" stroke-width="1.7"/>
<circle cx="232.3" cy="1153.7" r="5.6" fill="#c0c0c0" stroke="#231f20" stroke-width="1.7"/>
<circle cx="224.5" cy="1142.1" r="5.6" fill="#c0c0c0" stroke="#231f20" stroke-width="1.7"/>
<circle cx="219.2" cy="1129.2" r="5.6" fill="#c0c0c0" stroke="#231f20" stroke-width="1.7"/>
<circle cx="216.4" cy="1115.5" r="5.6" fill="#c0c0c0" stroke="#231f20" stroke-width="1.7"/>
<circle cx="216.4" cy="1101.6" r="5.6" fill="#c0c0c0" stroke="#231f20" stroke-width="1.7"/>
<circle cx="219.2" cy="1087.9" r="5.6" fill="#c0c0c0" stroke="#231f20" stroke-width="1.7"/>
<circle cx="224.5" cy="1075.0" r="5.6" fill="#c0c0c0" stroke="#231f20" stroke-width="1.7"/>
<circle cx="232.2" cy="1063.4" r="5.6" fill="#c0c0c0" stroke="#231f20" stroke-width="1.7"/>
<circle cx="242.1" cy="1053.5" r="5.6" fill="#c0c0c0" stroke="#231f20" stroke-width="1.7"/>
<circle cx="253.7" cy="1045.7" r="5.6" fill="#c0c0c0" stroke="#231f20" stroke-width="1.7"/>
<circle cx="266.6" cy="1040.4" r="5.6" fill="#c0c0c0" stroke="#231f20" stroke-width="1.7"/>
<circle cx="280.3" cy="1037.6" r="5.6" fill="#c0c0c0" stroke="#231f20" stroke-width="1.7"/>
<polyline points="601.4,1046.5 600.4,1046.9 599.7,1047.3 599.6,1047.9 600.1,1048.5 601.0,1049.3 601.9,1050.0 602.4,1050.7 602.3,1051.2 601.6,1051.7 600.5,1052.1 599.4,1052.5 598.7,1052.9 598.7,1053.5 599.2,1054.1 600.1,1054.9 601.0,1055.6 601.5,1056.2 601.4,1056.8 600.7,1057.3 599.6,1057.7 598.5,1058.1 597.8,1058.5 597.7,1059.1 598.2,1059.7 599.1,1060.5 600.0,1061.2 600.5,1061.8 600.5,1062.4 599.8,1062.9 598.7,1063.2" stroke="#231f20" stroke-width="1.6" fill="none" />
<polyline points="614.2,1049.9 613.0,1050.1 612.3,1050.4 612.1,1050.9 612.4,1051.7 613.2,1052.6 613.9,1053.5 614.3,1054.2 614.1,1054.7 613.3,1055.1 612.1,1055.2 611.0,1055.4 610.2,1055.7 610.0,1056.2 610.4,1057.0 611.1,1057.9 611.9,1058.8 612.2,1059.5 612.0,1060.0 611.3,1060.3 610.1,1060.5 609.0,1060.7 608.2,1061.0 608.0,1061.5 608.4,1062.3 609.1,1063.2 609.8,1064.0 610.2,1064.8 610.0,1065.3 609.2,1065.6 608.1,1065.8" stroke="#231f20" stroke-width="1.6" fill="none" />
<polyline points="626.0,1055.9 624.8,1055.8 624.0,1056.0 623.7,1056.4 623.9,1057.3 624.4,1058.3 625.0,1059.3 625.2,1060.1 624.9,1060.6 624.0,1060.7 622.9,1060.7 621.8,1060.6 620.9,1060.7 620.6,1061.2 620.8,1062.0 621.4,1063.0 621.9,1064.1 622.1,1064.9 621.8,1065.4 621.0,1065.5 619.8,1065.4 618.7,1065.4 617.9,1065.5 617.6,1066.0 617.8,1066.8 618.3,1067.8 618.9,1068.8 619.1,1069.6 618.8,1070.1 617.9,1070.3 616.8,1070.2" stroke="#231f20" stroke-width="1.6" fill="none" />
<polyline points="636.3,1064.1 635.2,1063.8 634.3,1063.8 633.9,1064.2 634.0,1065.0 634.3,1066.1 634.6,1067.2 634.7,1068.1 634.3,1068.5 633.4,1068.4 632.3,1068.1 631.2,1067.9 630.4,1067.8 630.0,1068.2 630.0,1069.1 630.4,1070.2 630.7,1071.3 630.7,1072.1 630.3,1072.5 629.5,1072.5 628.4,1072.2 627.3,1071.9 626.4,1071.9 626.0,1072.3 626.1,1073.1 626.4,1074.2 626.7,1075.3 626.8,1076.2 626.4,1076.6 625.5,1076.6 624.4,1076.3" stroke="#231f20" stroke-width="1.6" fill="none" />
<polyline points="644.8,1074.2 643.7,1073.7 642.9,1073.5 642.4,1073.8 642.3,1074.6 642.4,1075.8 642.5,1076.9 642.4,1077.8 641.9,1078.1 641.1,1077.9 640.1,1077.4 639.0,1076.9 638.2,1076.7 637.8,1077.0 637.6,1077.8 637.7,1079.0 637.8,1080.1 637.7,1080.9 637.2,1081.3 636.4,1081.1 635.4,1080.6 634.3,1080.1 633.5,1079.9 633.1,1080.2 632.9,1081.0 633.0,1082.2 633.1,1083.3 633.0,1084.1 632.5,1084.4 631.7,1084.3 630.7,1083.7" stroke="#231f20" stroke-width="1.6" fill="none" />
<polyline points="651.0,1085.8 650.1,1085.1 649.4,1084.8 648.8,1085.0 648.5,1085.8 648.4,1086.9 648.3,1088.0 648.0,1088.8 647.5,1089.0 646.7,1088.7 645.8,1088.0 644.9,1087.3 644.1,1086.9 643.6,1087.1 643.3,1087.9 643.2,1089.1 643.0,1090.2 642.7,1091.0 642.2,1091.2 641.5,1090.9 640.6,1090.2 639.6,1089.4 638.9,1089.1 638.4,1089.3 638.1,1090.1 637.9,1091.2 637.8,1092.4 637.5,1093.2 637.0,1093.4 636.2,1093.0 635.3,1092.3" stroke="#231f20" stroke-width="1.6" fill="none" />
<polyline points="654.8,1098.4 654.1,1097.6 653.4,1097.1 652.8,1097.2 652.4,1097.9 652.0,1099.0 651.7,1100.1 651.2,1100.8 650.7,1100.9 650.0,1100.4 649.3,1099.5 648.5,1098.6 647.8,1098.1 647.3,1098.3 646.8,1099.0 646.5,1100.1 646.1,1101.1 645.7,1101.9 645.1,1102.0 644.4,1101.5 643.7,1100.6 642.9,1099.7 642.3,1099.2 641.7,1099.3 641.3,1100.0 640.9,1101.1 640.5,1102.2 640.1,1102.9 639.5,1103.0 638.9,1102.5 638.1,1101.7" stroke="#231f20" stroke-width="1.6" fill="none" />
<polyline points="656.0,1111.6 655.4,1110.6 654.9,1110.0 654.3,1109.9 653.7,1110.6 653.2,1111.6 652.6,1112.5 652.0,1113.2 651.4,1113.1 650.9,1112.5 650.3,1111.5 649.8,1110.5 649.2,1109.9 648.6,1109.9 648.1,1110.5 647.5,1111.5 646.9,1112.5 646.3,1113.1 645.8,1113.1 645.2,1112.5 644.7,1111.4 644.1,1110.4 643.5,1109.8 643.0,1109.8 642.4,1110.4 641.8,1111.4 641.3,1112.4 640.7,1113.0 640.1,1113.0 639.6,1112.4 639.0,1111.4" stroke="#231f20" stroke-width="1.6" fill="none" />
<polyline points="654.5,1124.7 654.2,1123.6 653.7,1122.9 653.2,1122.8 652.5,1123.2 651.7,1124.1 651.0,1124.9 650.3,1125.4 649.7,1125.3 649.3,1124.6 649.0,1123.5 648.6,1122.4 648.2,1121.7 647.6,1121.5 647.0,1122.0 646.2,1122.9 645.4,1123.7 644.7,1124.2 644.2,1124.1 643.8,1123.4 643.4,1122.3 643.1,1121.2 642.7,1120.5 642.1,1120.3 641.4,1120.8 640.7,1121.7 639.9,1122.5 639.2,1123.0 638.7,1122.9 638.2,1122.2 637.9,1121.1" stroke="#231f20" stroke-width="1.6" fill="none" />
<polyline points="650.4,1137.2 650.3,1136.1 650.0,1135.3 649.5,1135.1 648.7,1135.4 647.8,1136.1 646.9,1136.8 646.1,1137.1 645.6,1136.9 645.3,1136.1 645.2,1134.9 645.1,1133.8 644.8,1133.0 644.3,1132.8 643.6,1133.1 642.6,1133.8 641.7,1134.5 640.9,1134.8 640.4,1134.6 640.2,1133.8 640.0,1132.6 639.9,1131.5 639.7,1130.7 639.1,1130.5 638.4,1130.8 637.5,1131.5 636.5,1132.2 635.8,1132.5 635.2,1132.3 635.0,1131.5 634.9,1130.3" stroke="#231f20" stroke-width="1.6" fill="none" />
<polyline points="643.9,1148.7 644.0,1147.5 643.9,1146.7 643.4,1146.4 642.6,1146.6 641.6,1147.0 640.5,1147.5 639.7,1147.7 639.2,1147.4 639.1,1146.5 639.2,1145.4 639.4,1144.3 639.3,1143.4 638.8,1143.1 638.0,1143.3 636.9,1143.7 635.9,1144.2 635.1,1144.4 634.6,1144.1 634.5,1143.2 634.6,1142.1 634.8,1141.0 634.7,1140.1 634.2,1139.8 633.4,1140.0 632.3,1140.5 631.3,1140.9 630.5,1141.1 630.0,1140.8 629.9,1140.0 630.0,1138.8" stroke="#231f20" stroke-width="1.6" fill="none" />
<polyline points="635.1,1158.6 635.5,1157.5 635.6,1156.7 635.2,1156.2 634.3,1156.3 633.2,1156.5 632.1,1156.8 631.3,1156.8 630.9,1156.4 630.9,1155.5 631.3,1154.4 631.6,1153.3 631.7,1152.5 631.3,1152.1 630.5,1152.1 629.4,1152.4 628.2,1152.6 627.4,1152.6 627.0,1152.2 627.1,1151.4 627.4,1150.3 627.8,1149.2 627.9,1148.4 627.5,1147.9 626.6,1147.9 625.5,1148.2 624.4,1148.5 623.6,1148.5 623.2,1148.1 623.2,1147.2 623.6,1146.1" stroke="#231f20" stroke-width="1.6" fill="none" />
<polyline points="624.6,1166.5 625.2,1165.5 625.4,1164.7 625.1,1164.3 624.3,1164.1 623.1,1164.1 622.0,1164.2 621.2,1164.0 620.9,1163.5 621.1,1162.7 621.7,1161.7 622.2,1160.7 622.5,1159.9 622.2,1159.4 621.4,1159.2 620.2,1159.3 619.1,1159.3 618.2,1159.1 617.9,1158.7 618.2,1157.9 618.7,1156.9 619.3,1155.9 619.5,1155.0 619.2,1154.6 618.4,1154.4 617.3,1154.4 616.1,1154.5 615.3,1154.3 615.0,1153.8 615.2,1153.0 615.8,1152.0" stroke="#231f20" stroke-width="1.6" fill="none" />
<polyline points="612.7,1172.2 613.5,1171.3 613.8,1170.6 613.7,1170.1 612.9,1169.7 611.8,1169.5 610.6,1169.3 609.9,1169.0 609.7,1168.5 610.1,1167.7 610.8,1166.9 611.6,1166.0 611.9,1165.3 611.8,1164.7 611.0,1164.4 609.9,1164.2 608.7,1164.0 607.9,1163.7 607.8,1163.1 608.1,1162.4 608.9,1161.5 609.6,1160.7 610.0,1159.9 609.8,1159.4 609.1,1159.1 607.9,1158.9 606.8,1158.7 606.0,1158.3 605.9,1157.8 606.2,1157.1 607.0,1156.2" stroke="#231f20" stroke-width="1.6" fill="none" />
<polyline points="599.9,1175.4 600.8,1174.7 601.3,1174.0 601.3,1173.5 600.6,1173.0 599.5,1172.6 598.4,1172.1 597.7,1171.7 597.7,1171.1 598.2,1170.5 599.1,1169.8 600.0,1169.1 600.5,1168.4 600.5,1167.8 599.8,1167.4 598.7,1166.9 597.6,1166.5 597.0,1166.0 596.9,1165.5 597.4,1164.8 598.3,1164.1 599.2,1163.4 599.8,1162.8 599.7,1162.2 599.0,1161.8 597.9,1161.3 596.9,1160.9 596.2,1160.4 596.1,1159.9 596.6,1159.2 597.5,1158.5" stroke="#231f20" stroke-width="1.6" fill="none" />
<polyline points="586.7,1175.9 587.7,1175.4 588.4,1174.8 588.4,1174.3 587.9,1173.7 586.9,1173.0 585.9,1172.4 585.3,1171.8 585.4,1171.2 586.0,1170.7 587.1,1170.2 588.1,1169.7 588.8,1169.2 588.8,1168.6 588.2,1168.0 587.2,1167.4 586.3,1166.8 585.7,1166.2 585.7,1165.6 586.4,1165.1 587.4,1164.6 588.5,1164.1 589.1,1163.5 589.1,1163.0 588.6,1162.4 587.6,1161.7 586.6,1161.1 586.1,1160.5 586.1,1159.9 586.7,1159.4 587.8,1158.9" stroke="#231f20" stroke-width="1.6" fill="none" />
<polyline points="573.7,1173.7 574.8,1173.4 575.6,1173.0 575.7,1172.5 575.3,1171.8 574.4,1171.0 573.6,1170.2 573.2,1169.5 573.3,1168.9 574.1,1168.5 575.2,1168.2 576.3,1168.0 577.0,1167.6 577.2,1167.0 576.7,1166.3 575.9,1165.5 575.1,1164.7 574.7,1164.0 574.8,1163.5 575.6,1163.1 576.7,1162.8 577.8,1162.5 578.5,1162.1 578.7,1161.6 578.2,1160.9 577.4,1160.0 576.6,1159.2 576.2,1158.5 576.3,1158.0 577.0,1157.6 578.2,1157.3" stroke="#231f20" stroke-width="1.6" fill="none" />
<polyline points="561.4,1169.0 562.5,1168.9 563.3,1168.7 563.6,1168.2 563.3,1167.4 562.7,1166.5 562.0,1165.5 561.7,1164.7 562.0,1164.2 562.8,1164.0 563.9,1163.9 565.1,1163.9 565.9,1163.6 566.1,1163.1 565.9,1162.4 565.2,1161.4 564.6,1160.4 564.3,1159.7 564.5,1159.2 565.3,1158.9 566.5,1158.9 567.6,1158.8 568.5,1158.6 568.7,1158.1 568.4,1157.3 567.8,1156.3 567.1,1155.4 566.8,1154.6 567.1,1154.1 567.9,1153.9 569.1,1153.8" stroke="#231f20" stroke-width="1.6" fill="none" />
<polyline points="550.3,1161.9 551.4,1162.1 552.2,1162.0 552.6,1161.5 552.5,1160.7 552.0,1159.7 551.6,1158.6 551.5,1157.8 551.8,1157.3 552.7,1157.3 553.8,1157.4 554.9,1157.6 555.8,1157.6 556.1,1157.1 556.0,1156.3 555.6,1155.2 555.1,1154.2 555.0,1153.3 555.3,1152.9 556.2,1152.8 557.3,1153.0 558.5,1153.2 559.3,1153.1 559.6,1152.7 559.5,1151.8 559.1,1150.8 558.6,1149.7 558.5,1148.9 558.9,1148.4 559.7,1148.4 560.8,1148.6" stroke="#231f20" stroke-width="1.6" fill="none" />
<polyline points="540.8,1152.7 541.9,1153.1 542.7,1153.2 543.2,1152.8 543.2,1152.0 543.0,1150.9 542.8,1149.7 542.8,1148.9 543.3,1148.5 544.1,1148.6 545.2,1149.0 546.2,1149.4 547.1,1149.5 547.5,1149.2 547.5,1148.3 547.3,1147.2 547.1,1146.1 547.2,1145.2 547.6,1144.9 548.4,1145.0 549.5,1145.4 550.6,1145.8 551.4,1145.9 551.8,1145.5 551.9,1144.7 551.7,1143.6 551.5,1142.4 551.5,1141.6 551.9,1141.2 552.8,1141.4 553.9,1141.8" stroke="#231f20" stroke-width="1.6" fill="none" />
<polyline points="533.4,1141.8 534.4,1142.4 535.2,1142.6 535.7,1142.4 535.9,1141.6 535.9,1140.4 535.9,1139.3 536.1,1138.4 536.6,1138.2 537.4,1138.5 538.4,1139.1 539.4,1139.7 540.2,1139.9 540.7,1139.7 540.9,1138.9 540.9,1137.7 540.9,1136.6 541.1,1135.8 541.6,1135.5 542.4,1135.8 543.4,1136.4 544.4,1137.0 545.2,1137.3 545.7,1137.0 545.9,1136.2 545.9,1135.0 545.9,1133.9 546.1,1133.1 546.6,1132.8 547.4,1133.1 548.4,1133.7" stroke="#231f20" stroke-width="1.6" fill="none" />
<polyline points="528.4,1129.6 529.2,1130.4 529.9,1130.8 530.5,1130.6 530.8,1129.9 531.1,1128.8 531.3,1127.6 531.7,1126.9 532.2,1126.7 533.0,1127.1 533.8,1127.9 534.6,1128.7 535.3,1129.2 535.9,1129.0 536.2,1128.2 536.5,1127.1 536.8,1126.0 537.1,1125.2 537.7,1125.1 538.4,1125.5 539.2,1126.3 540.0,1127.1 540.8,1127.5 541.3,1127.4 541.7,1126.6 541.9,1125.5 542.2,1124.4 542.5,1123.6 543.1,1123.5 543.8,1123.9 544.6,1124.7" stroke="#231f20" stroke-width="1.6" fill="none" />
<polyline points="525.9,1116.6 526.5,1117.6 527.1,1118.1 527.7,1118.1 528.2,1117.4 528.7,1116.4 529.2,1115.3 529.7,1114.7 530.2,1114.6 530.9,1115.2 531.5,1116.1 532.2,1117.1 532.8,1117.6 533.3,1117.6 533.9,1116.9 534.3,1115.9 534.8,1114.8 535.3,1114.1 535.9,1114.1 536.5,1114.7 537.1,1115.6 537.8,1116.5 538.4,1117.1 539.0,1117.1 539.5,1116.4 540.0,1115.4 540.4,1114.3 541.0,1113.6 541.5,1113.6 542.1,1114.2 542.8,1115.1" stroke="#231f20" stroke-width="1.6" fill="none" />
<polyline points="526.0,1103.4 526.5,1104.5 527.0,1105.2 527.5,1105.2 528.2,1104.7 528.8,1103.7 529.5,1102.8 530.1,1102.3 530.7,1102.3 531.2,1103.0 531.6,1104.1 532.1,1105.1 532.6,1105.8 533.2,1105.9 533.8,1105.3 534.5,1104.4 535.1,1103.5 535.8,1102.9 536.3,1103.0 536.8,1103.6 537.3,1104.7 537.7,1105.8 538.2,1106.4 538.8,1106.5 539.4,1106.0 540.1,1105.0 540.8,1104.1 541.4,1103.5 542.0,1103.6 542.5,1104.3 542.9,1105.3" stroke="#231f20" stroke-width="1.6" fill="none" />
<polyline points="528.8,1090.5 529.1,1091.7 529.4,1092.4 529.9,1092.6 530.7,1092.2 531.5,1091.4 532.4,1090.6 533.1,1090.2 533.6,1090.4 534.0,1091.2 534.2,1092.3 534.4,1093.4 534.8,1094.2 535.3,1094.4 536.1,1093.9 536.9,1093.2 537.8,1092.4 538.5,1092.0 539.0,1092.2 539.4,1092.9 539.6,1094.1 539.8,1095.2 540.2,1095.9 540.7,1096.1 541.4,1095.7 542.3,1094.9 543.1,1094.2 543.9,1093.8 544.4,1093.9 544.8,1094.7 545.0,1095.8" stroke="#231f20" stroke-width="1.6" fill="none" />
<polyline points="534.2,1078.5 534.2,1079.6 534.4,1080.4 534.9,1080.7 535.7,1080.5 536.6,1079.9 537.6,1079.3 538.4,1079.0 538.9,1079.3 539.1,1080.1 539.1,1081.3 539.1,1082.4 539.3,1083.2 539.8,1083.5 540.6,1083.3 541.6,1082.7 542.5,1082.1 543.3,1081.8 543.8,1082.1 544.0,1082.9 544.0,1084.1 544.0,1085.2 544.2,1086.1 544.7,1086.3 545.5,1086.1 546.5,1085.5 547.5,1084.9 548.3,1084.7 548.8,1084.9 548.9,1085.8 548.9,1086.9" stroke="#231f20" stroke-width="1.6" fill="none" />
<polyline points="541.8,1067.7 541.6,1068.9 541.6,1069.7 542.1,1070.1 542.9,1070.0 544.0,1069.6 545.1,1069.2 545.9,1069.1 546.3,1069.5 546.3,1070.4 546.1,1071.5 545.9,1072.6 545.9,1073.4 546.3,1073.8 547.1,1073.7 548.2,1073.4 549.3,1073.0 550.1,1072.9 550.6,1073.3 550.6,1074.1 550.4,1075.2 550.1,1076.3 550.1,1077.2 550.6,1077.6 551.4,1077.5 552.5,1077.1 553.6,1076.7 554.4,1076.6 554.8,1077.0 554.8,1077.8 554.6,1079.0" stroke="#231f20" stroke-width="1.6" fill="none" />
<polyline points="551.5,1058.8 551.1,1059.8 550.9,1060.6 551.2,1061.1 552.1,1061.2 553.2,1061.0 554.4,1060.9 555.2,1061.0 555.5,1061.4 555.4,1062.2 554.9,1063.3 554.5,1064.3 554.3,1065.2 554.7,1065.6 555.5,1065.7 556.6,1065.5 557.8,1065.4 558.6,1065.5 559.0,1065.9 558.8,1066.8 558.3,1067.8 557.9,1068.9 557.7,1069.7 558.1,1070.1 558.9,1070.2 560.1,1070.1 561.2,1069.9 562.0,1070.0 562.4,1070.5 562.2,1071.3 561.8,1072.3" stroke="#231f20" stroke-width="1.6" fill="none" />
<polyline points="562.8,1051.9 562.1,1052.9 561.8,1053.6 562.1,1054.2 562.9,1054.4 564.0,1054.5 565.2,1054.6 566.0,1054.8 566.2,1055.3 565.9,1056.1 565.2,1057.0 564.6,1058.0 564.3,1058.8 564.5,1059.3 565.3,1059.5 566.4,1059.6 567.6,1059.7 568.4,1059.9 568.6,1060.4 568.3,1061.2 567.7,1062.2 567.0,1063.1 566.7,1063.9 566.9,1064.4 567.7,1064.6 568.9,1064.7 570.0,1064.8 570.8,1065.0 571.1,1065.6 570.8,1066.3 570.1,1067.3" stroke="#231f20" stroke-width="1.6" fill="none" />
<polyline points="575.2,1047.5 574.4,1048.3 573.9,1049.0 574.1,1049.5 574.8,1049.9 575.9,1050.2 577.0,1050.6 577.7,1051.0 577.9,1051.5 577.4,1052.2 576.6,1053.0 575.7,1053.8 575.3,1054.5 575.4,1055.0 576.1,1055.4 577.3,1055.7 578.4,1056.1 579.1,1056.5 579.2,1057.0 578.8,1057.7 577.9,1058.5 577.1,1059.3 576.6,1060.0 576.8,1060.5 577.5,1060.9 578.6,1061.2 579.7,1061.6 580.4,1062.0 580.6,1062.5 580.1,1063.2 579.3,1064.0" stroke="#231f20" stroke-width="1.6" fill="none" />
<polyline points="588.3,1045.6 587.3,1046.3 586.7,1046.8 586.7,1047.4 587.4,1048.0 588.4,1048.5 589.4,1049.0 590.1,1049.5 590.1,1050.1 589.5,1050.7 588.5,1051.3 587.5,1051.9 586.9,1052.5 587.0,1053.1 587.6,1053.6 588.6,1054.1 589.6,1054.7 590.3,1055.2 590.3,1055.8 589.7,1056.4 588.7,1057.0 587.7,1057.6 587.1,1058.2 587.2,1058.7 587.8,1059.3 588.8,1059.8 589.8,1060.3 590.5,1060.9 590.5,1061.4 589.9,1062.0 588.9,1062.6" stroke="#231f20" stroke-width="1.6" fill="none" />
<circle cx="602.4" cy="1041.0" r="5.6" fill="#c0c0c0" stroke="#231f20" stroke-width="1.7"/>
<circle cx="616.2" cy="1044.7" r="5.6" fill="#c0c0c0" stroke="#231f20" stroke-width="1.7"/>
<circle cx="629.0" cy="1051.2" r="5.6" fill="#c0c0c0" stroke="#231f20" stroke-width="1.7"/>
<circle cx="640.2" cy="1060.1" r="5.6" fill="#c0c0c0" stroke="#231f20" stroke-width="1.7"/>
<circle cx="649.4" cy="1071.1" r="5.6" fill="#c0c0c0" stroke="#231f20" stroke-width="1.7"/>
<circle cx="656.2" cy="1083.7" r="5.6" fill="#c0c0c0" stroke="#231f20" stroke-width="1.7"/>
<circle cx="660.3" cy="1097.4" r="5.6" fill="#c0c0c0" stroke="#231f20" stroke-width="1.7"/>
<circle cx="661.6" cy="1111.7" r="5.6" fill="#c0c0c0" stroke="#231f20" stroke-width="1.7"/>
<circle cx="660.0" cy="1125.9" r="5.6" fill="#c0c0c0" stroke="#231f20" stroke-width="1.7"/>
<circle cx="655.5" cy="1139.5" r="5.6" fill="#c0c0c0" stroke="#231f20" stroke-width="1.7"/>
<circle cx="648.4" cy="1151.9" r="5.6" fill="#c0c0c0" stroke="#231f20" stroke-width="1.7"/>
<circle cx="639.0" cy="1162.7" r="5.6" fill="#c0c0c0" stroke="#231f20" stroke-width="1.7"/>
<circle cx="627.5" cy="1171.3" r="5.6" fill="#c0c0c0" stroke="#231f20" stroke-width="1.7"/>
<circle cx="614.6" cy="1177.5" r="5.6" fill="#c0c0c0" stroke="#231f20" stroke-width="1.7"/>
<circle cx="600.7" cy="1180.9" r="5.6" fill="#c0c0c0" stroke="#231f20" stroke-width="1.7"/>
<circle cx="586.4" cy="1181.5" r="5.6" fill="#c0c0c0" stroke="#231f20" stroke-width="1.7"/>
<circle cx="572.2" cy="1179.1" r="5.6" fill="#c0c0c0" stroke="#231f20" stroke-width="1.7"/>
<circle cx="558.9" cy="1174.0" r="5.6" fill="#c0c0c0" stroke="#231f20" stroke-width="1.7"/>
<circle cx="546.8" cy="1166.3" r="5.6" fill="#c0c0c0" stroke="#231f20" stroke-width="1.7"/>
<circle cx="536.5" cy="1156.3" r="5.6" fill="#c0c0c0" stroke="#231f20" stroke-width="1.7"/>
<circle cx="528.5" cy="1144.4" r="5.6" fill="#c0c0c0" stroke="#231f20" stroke-width="1.7"/>
<circle cx="523.0" cy="1131.2" r="5.6" fill="#c0c0c0" stroke="#231f20" stroke-width="1.7"/>
<circle cx="520.3" cy="1117.1" r="5.6" fill="#c0c0c0" stroke="#231f20" stroke-width="1.7"/>
<circle cx="520.5" cy="1102.8" r="5.6" fill="#c0c0c0" stroke="#231f20" stroke-width="1.7"/>
<circle cx="523.5" cy="1088.8" r="5.6" fill="#c0c0c0" stroke="#231f20" stroke-width="1.7"/>
<circle cx="529.3" cy="1075.7" r="5.6" fill="#c0c0c0" stroke="#231f20" stroke-width="1.7"/>
<circle cx="537.6" cy="1064.0" r="5.6" fill="#c0c0c0" stroke="#231f20" stroke-width="1.7"/>
<circle cx="548.1" cy="1054.3" r="5.6" fill="#c0c0c0" stroke="#231f20" stroke-width="1.7"/>
<circle cx="560.4" cy="1046.9" r="5.6" fill="#c0c0c0" stroke="#231f20" stroke-width="1.7"/>
<circle cx="573.9" cy="1042.1" r="5.6" fill="#c0c0c0" stroke="#231f20" stroke-width="1.7"/>
<circle cx="588.1" cy="1040.1" r="5.6" fill="#c0c0c0" stroke="#231f20" stroke-width="1.7"/>
<line x1="280.1" y1="1017.7" x2="292.7" y2="1017.7" stroke="#3f5db8" stroke-width="1.4" />
<line x1="286.4" y1="1011.4" x2="286.4" y2="1024.0" stroke="#3f5db8" stroke-width="1.4" />
<line x1="191.5" y1="1086.3" x2="204.1" y2="1086.3" stroke="#3f5db8" stroke-width="1.4" />
<line x1="197.8" y1="1080.0" x2="197.8" y2="1092.6" stroke="#3f5db8" stroke-width="1.4" />
<line x1="261.3" y1="1079.5" x2="273.9" y2="1079.5" stroke="#3f5db8" stroke-width="1.4" />
<line x1="267.6" y1="1073.2" x2="267.6" y2="1085.8" stroke="#3f5db8" stroke-width="1.4" />
<line x1="296.0" y1="1079.0" x2="308.6" y2="1079.0" stroke="#3f5db8" stroke-width="1.4" />
<line x1="302.3" y1="1072.7" x2="302.3" y2="1085.3" stroke="#3f5db8" stroke-width="1.4" />
<line x1="360.6" y1="1079.0" x2="373.2" y2="1079.0" stroke="#3f5db8" stroke-width="1.4" />
<line x1="366.9" y1="1072.7" x2="366.9" y2="1085.3" stroke="#3f5db8" stroke-width="1.4" />
<line x1="229.6" y1="1183.8" x2="242.2" y2="1183.8" stroke="#3f5db8" stroke-width="1.4" />
<line x1="235.9" y1="1177.5" x2="235.9" y2="1190.1" stroke="#3f5db8" stroke-width="1.4" />
<line x1="323.2" y1="1181.0" x2="335.8" y2="1181.0" stroke="#3f5db8" stroke-width="1.4" />
<line x1="329.5" y1="1174.7" x2="329.5" y2="1187.3" stroke="#3f5db8" stroke-width="1.4" />
<polygon points="224.5,1135.0 225.4,1134.9 226.4,1134.7 227.3,1134.4 228.2,1134.0 229.1,1133.4 230.1,1132.7 231.0,1131.9 231.9,1131.1 232.8,1130.1 233.8,1129.0 234.7,1127.9 235.6,1126.8 236.5,1125.6 237.5,1124.3 238.4,1123.1 239.3,1121.9 240.3,1120.6 241.2,1119.4 242.1,1118.3 243.0,1117.2 244.0,1116.1 244.9,1115.1 245.8,1114.3 246.7,1113.5 247.7,1112.8 248.6,1112.2 249.5,1111.8 250.4,1111.5 251.4,1111.3 252.3,1111.2 258.6,1111.2 257.7,1111.3 256.7,1111.5 255.8,1111.8 254.9,1112.2 254.0,1112.8 253.0,1113.5 252.1,1114.3 251.2,1115.1 250.3,1116.1 249.3,1117.2 248.4,1118.3 247.5,1119.4 246.6,1120.6 245.6,1121.9 244.7,1123.1 243.8,1124.3 242.8,1125.6 241.9,1126.8 241.0,1127.9 240.1,1129.0 239.1,1130.1 238.2,1131.1 237.3,1131.9 236.4,1132.7 235.4,1133.4 234.5,1134.0 233.6,1134.4 232.7,1134.7 231.7,1134.9 230.8,1135.0" fill="#951b2e"/>
<polygon points="252.3,1111.2 253.3,1111.3 254.2,1111.5 255.2,1111.8 256.2,1112.2 257.1,1112.8 258.1,1113.5 259.1,1114.3 260.0,1115.1 261.0,1116.1 262.0,1117.2 262.9,1118.3 263.9,1119.4 264.9,1120.6 265.8,1121.9 266.8,1123.1 267.8,1124.3 268.7,1125.6 269.7,1126.8 270.7,1127.9 271.6,1129.0 272.6,1130.1 273.6,1131.1 274.5,1131.9 275.5,1132.7 276.5,1133.4 277.4,1134.0 278.4,1134.4 279.4,1134.7 280.3,1134.9 281.3,1135.0 287.6,1135.0 286.6,1134.9 285.7,1134.7 284.7,1134.4 283.7,1134.0 282.8,1133.4 281.8,1132.7 280.8,1131.9 279.9,1131.1 278.9,1130.1 277.9,1129.0 277.0,1127.9 276.0,1126.8 275.0,1125.6 274.1,1124.3 273.1,1123.1 272.1,1121.9 271.2,1120.6 270.2,1119.4 269.2,1118.3 268.3,1117.2 267.3,1116.1 266.3,1115.1 265.4,1114.3 264.4,1113.5 263.4,1112.8 262.5,1112.2 261.5,1111.8 260.5,1111.5 259.6,1111.3 258.6,1111.2" fill="#c21d3b"/>
<polygon points="281.3,1135.0 282.2,1134.9 283.1,1134.7 284.0,1134.4 285.0,1134.0 285.9,1133.4 286.8,1132.7 287.7,1131.9 288.6,1131.1 289.5,1130.1 290.4,1129.0 291.3,1127.9 292.3,1126.8 293.2,1125.6 294.1,1124.3 295.0,1123.1 295.9,1121.9 296.8,1120.6 297.7,1119.4 298.7,1118.3 299.6,1117.2 300.5,1116.1 301.4,1115.1 302.3,1114.3 303.2,1113.5 304.1,1112.8 305.0,1112.2 306.0,1111.8 306.9,1111.5 307.8,1111.3 308.7,1111.2 315.0,1111.2 314.1,1111.3 313.2,1111.5 312.3,1111.8 311.3,1112.2 310.4,1112.8 309.5,1113.5 308.6,1114.3 307.7,1115.1 306.8,1116.1 305.9,1117.2 305.0,1118.3 304.0,1119.4 303.1,1120.6 302.2,1121.9 301.3,1123.1 300.4,1124.3 299.5,1125.6 298.6,1126.8 297.6,1127.9 296.7,1129.0 295.8,1130.1 294.9,1131.1 294.0,1131.9 293.1,1132.7 292.2,1133.4 291.3,1134.0 290.3,1134.4 289.4,1134.7 288.5,1134.9 287.6,1135.0" fill="#951b2e"/>
<polygon points="308.7,1111.2 309.6,1111.3 310.5,1111.5 311.4,1111.8 312.3,1112.2 313.2,1112.8 314.1,1113.5 315.0,1114.3 315.8,1115.1 316.7,1116.1 317.6,1117.2 318.5,1118.3 319.4,1119.4 320.3,1120.6 321.2,1121.9 322.1,1123.1 323.0,1124.3 323.9,1125.6 324.8,1126.8 325.7,1127.9 326.6,1129.0 327.5,1130.1 328.4,1131.1 329.2,1131.9 330.1,1132.7 331.0,1133.4 331.9,1134.0 332.8,1134.4 333.7,1134.7 334.6,1134.9 335.5,1135.0 341.8,1135.0 340.9,1134.9 340.0,1134.7 339.1,1134.4 338.2,1134.0 337.3,1133.4 336.4,1132.7 335.5,1131.9 334.7,1131.1 333.8,1130.1 332.9,1129.0 332.0,1127.9 331.1,1126.8 330.2,1125.6 329.3,1124.3 328.4,1123.1 327.5,1121.9 326.6,1120.6 325.7,1119.4 324.8,1118.3 323.9,1117.2 323.0,1116.1 322.1,1115.1 321.3,1114.3 320.4,1113.5 319.5,1112.8 318.6,1112.2 317.7,1111.8 316.8,1111.5 315.9,1111.3 315.0,1111.2" fill="#c21d3b"/>
<line x1="249.0" y1="1101.3" x2="261.6" y2="1101.3" stroke="#ec3b2a" stroke-width="1.6" />
<line x1="305.1" y1="1100.8" x2="317.7" y2="1100.8" stroke="#ec3b2a" stroke-width="1.6" />
<polygon points="679.0,1081.3 679.9,1081.2 680.8,1081.0 681.8,1080.7 682.7,1080.3 683.6,1079.7 684.5,1079.0 685.4,1078.3 686.3,1077.4 687.2,1076.4 688.2,1075.4 689.1,1074.3 690.0,1073.1 690.9,1072.0 691.8,1070.7 692.8,1069.5 693.7,1068.3 694.6,1067.0 695.5,1065.9 696.4,1064.7 697.3,1063.6 698.2,1062.6 699.2,1061.6 700.1,1060.7 701.0,1060.0 701.9,1059.3 702.8,1058.7 703.8,1058.3 704.7,1058.0 705.6,1057.8 706.5,1057.7 712.8,1057.7 711.9,1057.8 711.0,1058.0 710.0,1058.3 709.1,1058.7 708.2,1059.3 707.3,1060.0 706.4,1060.7 705.5,1061.6 704.5,1062.6 703.6,1063.6 702.7,1064.7 701.8,1065.9 700.9,1067.0 700.0,1068.3 699.0,1069.5 698.1,1070.7 697.2,1072.0 696.3,1073.1 695.4,1074.3 694.5,1075.4 693.5,1076.4 692.6,1077.4 691.7,1078.3 690.8,1079.0 689.9,1079.7 689.0,1080.3 688.0,1080.7 687.1,1081.0 686.2,1081.2 685.3,1081.3" fill="#951b2e"/>
<polygon points="706.5,1057.7 707.5,1057.8 708.4,1058.0 709.4,1058.3 710.4,1058.7 711.3,1059.3 712.3,1060.0 713.3,1060.7 714.2,1061.6 715.2,1062.6 716.2,1063.6 717.1,1064.7 718.1,1065.9 719.1,1067.0 720.0,1068.3 721.0,1069.5 722.0,1070.7 722.9,1072.0 723.9,1073.1 724.9,1074.3 725.8,1075.4 726.8,1076.4 727.8,1077.4 728.7,1078.3 729.7,1079.0 730.7,1079.7 731.6,1080.3 732.6,1080.7 733.6,1081.0 734.5,1081.2 735.5,1081.3 741.8,1081.3 740.8,1081.2 739.9,1081.0 738.9,1080.7 737.9,1080.3 737.0,1079.7 736.0,1079.0 735.0,1078.3 734.1,1077.4 733.1,1076.4 732.1,1075.4 731.2,1074.3 730.2,1073.1 729.2,1072.0 728.3,1070.7 727.3,1069.5 726.3,1068.3 725.4,1067.0 724.4,1065.9 723.4,1064.7 722.5,1063.6 721.5,1062.6 720.5,1061.6 719.6,1060.7 718.6,1060.0 717.6,1059.3 716.7,1058.7 715.7,1058.3 714.7,1058.0 713.8,1057.8 712.8,1057.7" fill="#c21d3b"/>
<polygon points="735.5,1081.3 736.4,1081.2 737.3,1081.0 738.2,1080.7 739.1,1080.3 740.0,1079.7 741.0,1079.0 741.9,1078.3 742.8,1077.4 743.7,1076.4 744.6,1075.4 745.5,1074.3 746.4,1073.1 747.3,1072.0 748.2,1070.7 749.1,1069.5 750.1,1068.3 751.0,1067.0 751.9,1065.9 752.8,1064.7 753.7,1063.6 754.6,1062.6 755.5,1061.6 756.4,1060.7 757.3,1060.0 758.2,1059.3 759.2,1058.7 760.1,1058.3 761.0,1058.0 761.9,1057.8 762.8,1057.7 769.1,1057.7 768.2,1057.8 767.3,1058.0 766.4,1058.3 765.5,1058.7 764.5,1059.3 763.6,1060.0 762.7,1060.7 761.8,1061.6 760.9,1062.6 760.0,1063.6 759.1,1064.7 758.2,1065.9 757.3,1067.0 756.4,1068.3 755.4,1069.5 754.5,1070.7 753.6,1072.0 752.7,1073.1 751.8,1074.3 750.9,1075.4 750.0,1076.4 749.1,1077.4 748.2,1078.3 747.3,1079.0 746.3,1079.7 745.4,1080.3 744.5,1080.7 743.6,1081.0 742.7,1081.2 741.8,1081.3" fill="#951b2e"/>
<polygon points="762.8,1057.7 763.7,1057.8 764.6,1058.0 765.5,1058.3 766.4,1058.7 767.3,1059.3 768.2,1060.0 769.1,1060.7 770.1,1061.6 771.0,1062.6 771.9,1063.6 772.8,1064.7 773.7,1065.9 774.6,1067.0 775.5,1068.3 776.4,1069.5 777.3,1070.7 778.2,1072.0 779.1,1073.1 780.0,1074.3 780.9,1075.4 781.8,1076.4 782.7,1077.4 783.7,1078.3 784.6,1079.0 785.5,1079.7 786.4,1080.3 787.3,1080.7 788.2,1081.0 789.1,1081.2 790.0,1081.3 796.3,1081.3 795.4,1081.2 794.5,1081.0 793.6,1080.7 792.7,1080.3 791.8,1079.7 790.9,1079.0 790.0,1078.3 789.0,1077.4 788.1,1076.4 787.2,1075.4 786.3,1074.3 785.4,1073.1 784.5,1072.0 783.6,1070.7 782.7,1069.5 781.8,1068.3 780.9,1067.0 780.0,1065.9 779.1,1064.7 778.2,1063.6 777.3,1062.6 776.4,1061.6 775.4,1060.7 774.5,1060.0 773.6,1059.3 772.7,1058.7 771.8,1058.3 770.9,1058.0 770.0,1057.8 769.1,1057.7" fill="#c21d3b"/>
<line x1="703.3" y1="1047.0" x2="715.9" y2="1047.0" stroke="#ec3b2a" stroke-width="1.6" />
<line x1="759.7" y1="1047.0" x2="772.3" y2="1047.0" stroke="#ec3b2a" stroke-width="1.6" />
<circle cx="144.8" cy="1008.6" r="18.9" fill="#3cb54a" stroke="none" stroke-width="0"/>
<circle cx="144.8" cy="1008.6" r="14.8" fill="#8dc63f" stroke="none" stroke-width="0"/>
<circle cx="144.8" cy="1008.6" r="9.5" fill="#d9e021" stroke="none" stroke-width="0"/>
<circle cx="90.1" cy="1123.7" r="18.9" fill="#3cb54a" stroke="none" stroke-width="0"/>
<circle cx="90.1" cy="1123.7" r="14.8" fill="#8dc63f" stroke="none" stroke-width="0"/>
<circle cx="90.1" cy="1123.7" r="9.5" fill="#d9e021" stroke="none" stroke-width="0"/>
<circle cx="794.3" cy="1099.2" r="18.9" fill="#3cb54a" stroke="none" stroke-width="0"/>
<circle cx="794.3" cy="1099.2" r="14.8" fill="#8dc63f" stroke="none" stroke-width="0"/>
<circle cx="794.3" cy="1099.2" r="9.5" fill="#d9e021" stroke="none" stroke-width="0"/>
<line x1="165.1" y1="1016.0" x2="187.1" y2="1033.0" stroke="#231f20" stroke-width="2.2" />
<line x1="182.6" y1="1038.7" x2="192.3" y2="1027.4" stroke="#231f20" stroke-width="2.4" />
<line x1="114.1" y1="1120.3" x2="156.5" y2="1118.0" stroke="#231f20" stroke-width="2.2" />
<line x1="156.5" y1="1110.1" x2="157.0" y2="1125.5" stroke="#231f20" stroke-width="2.4" />
<polygon points="370.2,1104.9 490.3,1104.9 490.3,1095.4 509,1114.1 490.3,1132.8 490.3,1123.4 370.2,1123.4" fill="#231f20" stroke="#111" stroke-width="0.8"/>
<line x1="148.0" y1="1269.5" x2="148.0" y2="1683.5" stroke="#111" stroke-width="2.4" />
<line x1="139.3" y1="1682.3" x2="148.0" y2="1682.3" stroke="#111" stroke-width="2.4" />
<line x1="143.5" y1="1641.1" x2="148.0" y2="1641.1" stroke="#111" stroke-width="2.4" />
<line x1="139.3" y1="1600.0" x2="148.0" y2="1600.0" stroke="#111" stroke-width="2.4" />
<line x1="143.5" y1="1558.8" x2="148.0" y2="1558.8" stroke="#111" stroke-width="2.4" />
<line x1="139.3" y1="1517.7" x2="148.0" y2="1517.7" stroke="#111" stroke-width="2.4" />
<line x1="143.5" y1="1476.5" x2="148.0" y2="1476.5" stroke="#111" stroke-width="2.4" />
<line x1="139.3" y1="1435.3" x2="148.0" y2="1435.3" stroke="#111" stroke-width="2.4" />
<line x1="143.5" y1="1394.2" x2="148.0" y2="1394.2" stroke="#111" stroke-width="2.4" />
<line x1="139.3" y1="1353.0" x2="148.0" y2="1353.0" stroke="#111" stroke-width="2.4" />
<line x1="143.5" y1="1311.9" x2="148.0" y2="1311.9" stroke="#111" stroke-width="2.4" />
<line x1="139.3" y1="1270.7" x2="148.0" y2="1270.7" stroke="#111" stroke-width="2.4" />
<text x="131.8" y="1693.2" font-size="25" text-anchor="end" fill="#111" font-weight="normal" >0</text>
<text x="134.6" y="1610.9" font-size="25" text-anchor="end" fill="#111" font-weight="normal" >20</text>
<text x="134.6" y="1528.6" font-size="25" text-anchor="end" fill="#111" font-weight="normal" >40</text>
<text x="134.6" y="1446.2" font-size="25" text-anchor="end" fill="#111" font-weight="normal" >60</text>
<text x="134.6" y="1363.9" font-size="25" text-anchor="end" fill="#111" font-weight="normal" >80</text>
<text x="137.2" y="1281.6" font-size="25" text-anchor="end" fill="#111" font-weight="normal" >100</text>
<line x1="148.0" y1="1682.3" x2="710.5" y2="1682.3" stroke="#111" stroke-width="2.4" />
<line x1="148.0" y1="1682.3" x2="148.0" y2="1691.0" stroke="#111" stroke-width="2.4" />
<line x1="185.4" y1="1682.3" x2="185.4" y2="1689.0" stroke="#111" stroke-width="2.4" />
<line x1="222.9" y1="1682.3" x2="222.9" y2="1689.0" stroke="#111" stroke-width="2.4" />
<line x1="260.3" y1="1682.3" x2="260.3" y2="1689.0" stroke="#111" stroke-width="2.4" />
<line x1="297.7" y1="1682.3" x2="297.7" y2="1689.0" stroke="#111" stroke-width="2.4" />
<line x1="335.1" y1="1682.3" x2="335.1" y2="1691.0" stroke="#111" stroke-width="2.4" />
<line x1="372.6" y1="1682.3" x2="372.6" y2="1689.0" stroke="#111" stroke-width="2.4" />
<line x1="410.0" y1="1682.3" x2="410.0" y2="1689.0" stroke="#111" stroke-width="2.4" />
<line x1="447.4" y1="1682.3" x2="447.4" y2="1689.0" stroke="#111" stroke-width="2.4" />
<line x1="484.9" y1="1682.3" x2="484.9" y2="1689.0" stroke="#111" stroke-width="2.4" />
<line x1="522.3" y1="1682.3" x2="522.3" y2="1691.0" stroke="#111" stroke-width="2.4" />
<line x1="559.7" y1="1682.3" x2="559.7" y2="1689.0" stroke="#111" stroke-width="2.4" />
<line x1="597.2" y1="1682.3" x2="597.2" y2="1689.0" stroke="#111" stroke-width="2.4" />
<line x1="634.6" y1="1682.3" x2="634.6" y2="1689.0" stroke="#111" stroke-width="2.4" />
<line x1="672.0" y1="1682.3" x2="672.0" y2="1689.0" stroke="#111" stroke-width="2.4" />
<line x1="709.5" y1="1682.3" x2="709.5" y2="1691.0" stroke="#111" stroke-width="2.4" />
<text x="147.0" y="1713.7" font-size="25" text-anchor="middle" fill="#111" font-weight="normal" >0</text>
<text x="334.1" y="1713.7" font-size="25" text-anchor="middle" fill="#111" font-weight="normal" >5</text>
<text x="521.3" y="1713.7" font-size="25" text-anchor="middle" fill="#111" font-weight="normal" >10</text>
<text x="708.5" y="1713.7" font-size="25" text-anchor="middle" fill="#111" font-weight="normal" >15</text>
<text x="345.0" y="1745.6" font-size="29.6" text-anchor="start" fill="#111" font-weight="normal" >Time (min)</text>
<text transform="translate(85.2,1455.0) rotate(-90) scale(1,1.05)" font-size="30.3" text-anchor="middle" fill="#111">mRNA release (%)</text>
<line x1="185.4" y1="1436.2" x2="185.4" y2="1486.4" stroke="#15455f" stroke-width="1.8" />
<line x1="180.4" y1="1436.2" x2="190.4" y2="1436.2" stroke="#15455f" stroke-width="1.8" />
<line x1="180.4" y1="1486.4" x2="190.4" y2="1486.4" stroke="#15455f" stroke-width="1.8" />
<line x1="241.6" y1="1374.8" x2="241.6" y2="1413.9" stroke="#15455f" stroke-width="1.8" />
<line x1="236.6" y1="1374.8" x2="246.6" y2="1374.8" stroke="#15455f" stroke-width="1.8" />
<line x1="236.6" y1="1413.9" x2="246.6" y2="1413.9" stroke="#15455f" stroke-width="1.8" />
<line x1="335.1" y1="1360.4" x2="335.1" y2="1397.5" stroke="#15455f" stroke-width="1.8" />
<line x1="330.1" y1="1360.4" x2="340.1" y2="1360.4" stroke="#15455f" stroke-width="1.8" />
<line x1="330.1" y1="1397.5" x2="340.1" y2="1397.5" stroke="#15455f" stroke-width="1.8" />
<line x1="522.3" y1="1361.3" x2="522.3" y2="1397.5" stroke="#15455f" stroke-width="1.8" />
<line x1="517.3" y1="1361.3" x2="527.3" y2="1361.3" stroke="#15455f" stroke-width="1.8" />
<line x1="517.3" y1="1397.5" x2="527.3" y2="1397.5" stroke="#15455f" stroke-width="1.8" />
<line x1="709.5" y1="1349.7" x2="709.5" y2="1379.4" stroke="#15455f" stroke-width="1.8" />
<line x1="704.5" y1="1349.7" x2="714.5" y2="1349.7" stroke="#15455f" stroke-width="1.8" />
<line x1="704.5" y1="1379.4" x2="714.5" y2="1379.4" stroke="#15455f" stroke-width="1.8" />
<line x1="148.0" y1="1673.2" x2="148.0" y2="1682.3" stroke="#8c6d2c" stroke-width="1.8" />
<line x1="143.0" y1="1673.2" x2="153.0" y2="1673.2" stroke="#8c6d2c" stroke-width="1.8" />
<line x1="143.0" y1="1682.3" x2="153.0" y2="1682.3" stroke="#8c6d2c" stroke-width="1.8" />
<line x1="185.4" y1="1565.0" x2="185.4" y2="1587.2" stroke="#8c6d2c" stroke-width="1.8" />
<line x1="180.4" y1="1565.0" x2="190.4" y2="1565.0" stroke="#8c6d2c" stroke-width="1.8" />
<line x1="180.4" y1="1587.2" x2="190.4" y2="1587.2" stroke="#8c6d2c" stroke-width="1.8" />
<line x1="241.6" y1="1509.4" x2="241.6" y2="1534.1" stroke="#8c6d2c" stroke-width="1.8" />
<line x1="236.6" y1="1509.4" x2="246.6" y2="1509.4" stroke="#8c6d2c" stroke-width="1.8" />
<line x1="236.6" y1="1534.1" x2="246.6" y2="1534.1" stroke="#8c6d2c" stroke-width="1.8" />
<line x1="335.1" y1="1452.2" x2="335.1" y2="1484.3" stroke="#8c6d2c" stroke-width="1.8" />
<line x1="330.1" y1="1452.2" x2="340.1" y2="1452.2" stroke="#8c6d2c" stroke-width="1.8" />
<line x1="330.1" y1="1484.3" x2="340.1" y2="1484.3" stroke="#8c6d2c" stroke-width="1.8" />
<line x1="522.3" y1="1412.3" x2="522.3" y2="1450.2" stroke="#8c6d2c" stroke-width="1.8" />
<line x1="517.3" y1="1412.3" x2="527.3" y2="1412.3" stroke="#8c6d2c" stroke-width="1.8" />
<line x1="517.3" y1="1450.2" x2="527.3" y2="1450.2" stroke="#8c6d2c" stroke-width="1.8" />
<line x1="709.5" y1="1385.1" x2="709.5" y2="1424.6" stroke="#8c6d2c" stroke-width="1.8" />
<line x1="704.5" y1="1385.1" x2="714.5" y2="1385.1" stroke="#8c6d2c" stroke-width="1.8" />
<line x1="704.5" y1="1424.6" x2="714.5" y2="1424.6" stroke="#8c6d2c" stroke-width="1.8" />
<line x1="241.6" y1="1523.0" x2="241.6" y2="1537.0" stroke="#111" stroke-width="1.8" />
<line x1="236.6" y1="1523.0" x2="246.6" y2="1523.0" stroke="#111" stroke-width="1.8" />
<line x1="236.6" y1="1537.0" x2="246.6" y2="1537.0" stroke="#111" stroke-width="1.8" />
<line x1="335.1" y1="1483.5" x2="335.1" y2="1499.5" stroke="#111" stroke-width="1.8" />
<line x1="330.1" y1="1483.5" x2="340.1" y2="1483.5" stroke="#111" stroke-width="1.8" />
<line x1="330.1" y1="1499.5" x2="340.1" y2="1499.5" stroke="#111" stroke-width="1.8" />
<line x1="522.3" y1="1433.3" x2="522.3" y2="1462.1" stroke="#111" stroke-width="1.8" />
<line x1="517.3" y1="1433.3" x2="527.3" y2="1433.3" stroke="#111" stroke-width="1.8" />
<line x1="517.3" y1="1462.1" x2="527.3" y2="1462.1" stroke="#111" stroke-width="1.8" />
<polyline points="148.0,1678.2 185.4,1630.4 241.6,1530.0 335.1,1491.7 522.3,1447.7 709.5,1446.5" stroke="#404040" stroke-width="2.6" fill="none" />
<polyline points="148.0,1678.2 185.4,1576.1 241.6,1521.8 335.1,1468.3 522.3,1431.2 709.5,1404.9" stroke="#fbd65c" stroke-width="2.6" fill="none" />
<polyline points="148.0,1681.1 185.4,1461.7 241.6,1395.0 335.1,1379.8 522.3,1379.0 709.5,1364.1" stroke="#2177a7" stroke-width="2.6" fill="none" />
<polygon points="143.2,1674.1 152.8,1674.1 148.0,1682.3" fill="#fbd65c"/>
<polygon points="180.7,1572.0 190.2,1572.0 185.4,1580.2" fill="#fbd65c"/>
<polygon points="236.8,1517.6 246.3,1517.6 241.6,1525.9" fill="#fbd65c"/>
<polygon points="330.4,1464.1 339.9,1464.1 335.1,1472.4" fill="#fbd65c"/>
<polygon points="517.5,1427.1 527.0,1427.1 522.3,1435.4" fill="#fbd65c"/>
<polygon points="704.7,1400.7 714.2,1400.7 709.5,1409.0" fill="#fbd65c"/>
<rect x="143.5" y="1676.6" width="9.0" height="9.0" fill="#2177a7"/>
<rect x="180.9" y="1457.2" width="9.0" height="9.0" fill="#2177a7"/>
<rect x="237.1" y="1390.5" width="9.0" height="9.0" fill="#2177a7"/>
<rect x="330.6" y="1375.3" width="9.0" height="9.0" fill="#2177a7"/>
<rect x="517.8" y="1374.5" width="9.0" height="9.0" fill="#2177a7"/>
<rect x="705.0" y="1359.6" width="9.0" height="9.0" fill="#2177a7"/>
<circle cx="148.0" cy="1678.2" r="4.8" fill="#404040" stroke="none" stroke-width="0"/>
<circle cx="185.4" cy="1630.4" r="4.8" fill="#404040" stroke="none" stroke-width="0"/>
<circle cx="241.6" cy="1530.0" r="4.8" fill="#404040" stroke="none" stroke-width="0"/>
<circle cx="335.1" cy="1491.7" r="4.8" fill="#404040" stroke="none" stroke-width="0"/>
<circle cx="522.3" cy="1447.7" r="4.8" fill="#404040" stroke="none" stroke-width="0"/>
<circle cx="709.5" cy="1446.5" r="4.8" fill="#404040" stroke="none" stroke-width="0"/>
<line x1="729.3" y1="1365.5" x2="752.9" y2="1365.5" stroke="#2177a7" stroke-width="2.6" />
<rect x="736.8" y="1361.0" width="9.0" height="9.0" fill="#2177a7"/>
<text transform="translate(764.8,1374.0) scale(1,1.07)" font-size="29.6" text-anchor="start" fill="#111" font-weight="normal" >MTC</text>
<line x1="731.0" y1="1406.6" x2="755.0" y2="1406.6" stroke="#fbd65c" stroke-width="2.6" />
<polygon points="738.2,1402.5 747.8,1402.5 743.0,1410.7" fill="#fbd65c"/>
<text transform="translate(767.0,1415.2) scale(1,1.07)" font-size="29.6" text-anchor="start" fill="#111" font-weight="normal" >bAC</text>
<line x1="731.0" y1="1449.5" x2="755.0" y2="1449.5" stroke="#404040" stroke-width="2.6" />
<circle cx="743.0" cy="1449.5" r="4.7" fill="#404040" stroke="none" stroke-width="0"/>
<text transform="translate(767.0,1457.6) scale(1,1.07)" font-size="29.6" text-anchor="start" fill="#111" font-weight="normal" >ONA</text>
<line x1="956.5" y1="1062.0" x2="956.5" y2="1335.0" stroke="#111" stroke-width="3.6" />
<line x1="950.5" y1="1333.5" x2="956.5" y2="1333.5" stroke="#111" stroke-width="3.6" />
<text x="948.0" y="1343.0" font-size="25" text-anchor="end" fill="#111" font-weight="normal" >0</text>
<line x1="950.5" y1="1288.5" x2="956.5" y2="1288.5" stroke="#111" stroke-width="3.6" />
<text x="948.0" y="1298.0" font-size="25" text-anchor="end" fill="#111" font-weight="normal" >10</text>
<line x1="950.5" y1="1243.5" x2="956.5" y2="1243.5" stroke="#111" stroke-width="3.6" />
<text x="948.0" y="1253.0" font-size="25" text-anchor="end" fill="#111" font-weight="normal" >20</text>
<line x1="950.5" y1="1198.5" x2="956.5" y2="1198.5" stroke="#111" stroke-width="3.6" />
<text x="948.0" y="1208.0" font-size="25" text-anchor="end" fill="#111" font-weight="normal" >30</text>
<line x1="950.5" y1="1153.5" x2="956.5" y2="1153.5" stroke="#111" stroke-width="3.6" />
<text x="948.0" y="1163.0" font-size="25" text-anchor="end" fill="#111" font-weight="normal" >40</text>
<line x1="950.5" y1="1108.5" x2="956.5" y2="1108.5" stroke="#111" stroke-width="3.6" />
<text x="948.0" y="1118.0" font-size="25" text-anchor="end" fill="#111" font-weight="normal" >50</text>
<line x1="950.5" y1="1063.5" x2="956.5" y2="1063.5" stroke="#111" stroke-width="3.6" />
<text x="948.0" y="1073.0" font-size="25" text-anchor="end" fill="#111" font-weight="normal" >60</text>
<line x1="956.5" y1="1333.5" x2="1154.5" y2="1333.5" stroke="#111" stroke-width="3.6" />
<line x1="1163.5" y1="1333.5" x2="1361.5" y2="1333.5" stroke="#111" stroke-width="3.6" />
<line x1="1150.5" y1="1338.5" x2="1158.5" y2="1330.0" stroke="#111" stroke-width="3.4" />
<line x1="1160.0" y1="1338.5" x2="1167.0" y2="1330.0" stroke="#111" stroke-width="3.4" />
<line x1="956.5" y1="1333.5" x2="956.5" y2="1340.0" stroke="#111" stroke-width="3.6" />
<line x1="1005.8" y1="1333.5" x2="1005.8" y2="1340.0" stroke="#111" stroke-width="3.6" />
<line x1="1055.1" y1="1333.5" x2="1055.1" y2="1340.0" stroke="#111" stroke-width="3.6" />
<line x1="1104.4" y1="1333.5" x2="1104.4" y2="1340.0" stroke="#111" stroke-width="3.6" />
<line x1="1189.2" y1="1333.5" x2="1189.2" y2="1340.0" stroke="#111" stroke-width="3.6" />
<line x1="1231.9" y1="1333.5" x2="1231.9" y2="1340.0" stroke="#111" stroke-width="3.6" />
<line x1="1274.6" y1="1333.5" x2="1274.6" y2="1340.0" stroke="#111" stroke-width="3.6" />
<line x1="1317.3" y1="1333.5" x2="1317.3" y2="1340.0" stroke="#111" stroke-width="3.6" />
<line x1="1360.0" y1="1333.5" x2="1360.0" y2="1340.0" stroke="#111" stroke-width="3.6" />
<text x="962.0" y="1363.0" font-size="24.5" text-anchor="middle" fill="#111" font-weight="normal" >0.0</text>
<text x="1011.3" y="1363.0" font-size="24.5" text-anchor="middle" fill="#111" font-weight="normal" >0.5</text>
<text x="1060.6" y="1363.0" font-size="24.5" text-anchor="middle" fill="#111" font-weight="normal" >1.0</text>
<text x="1109.9" y="1363.0" font-size="24.5" text-anchor="middle" fill="#111" font-weight="normal" >1.5</text>
<text x="1159.2" y="1363.0" font-size="24.5" text-anchor="middle" fill="#111" font-weight="normal" >2.0</text>
<text x="1193.2" y="1362.5" font-size="24.5" text-anchor="middle" fill="#111" font-weight="normal" >5</text>
<text x="1235.9" y="1362.5" font-size="24.5" text-anchor="middle" fill="#111" font-weight="normal" >10</text>
<text x="1278.6" y="1362.5" font-size="24.5" text-anchor="middle" fill="#111" font-weight="normal" >15</text>
<text x="1321.3" y="1362.5" font-size="24.5" text-anchor="middle" fill="#111" font-weight="normal" >20</text>
<text x="1364.0" y="1362.5" font-size="24.5" text-anchor="middle" fill="#111" font-weight="normal" >25</text>
<text x="1119.5" y="1388.4" font-size="29.6" text-anchor="start" fill="#111" font-weight="normal" >Time (h)</text>
<text transform="translate(910.0,1186.5) rotate(-90) scale(1,1.05)" font-size="29.8" text-anchor="middle" fill="#111">cy5 + (%)</text>
<line x1="1005.8" y1="1101.8" x2="1005.8" y2="1124.7" stroke="#8c6d2c" stroke-width="3.4" />
<line x1="1002.3" y1="1101.8" x2="1009.3" y2="1101.8" stroke="#8c6d2c" stroke-width="3.4" stroke-linecap="round"/>
<line x1="1002.3" y1="1124.7" x2="1009.3" y2="1124.7" stroke="#8c6d2c" stroke-width="3.4" stroke-linecap="round"/>
<line x1="1153.7" y1="1101.3" x2="1153.7" y2="1116.6" stroke="#15455f" stroke-width="3.4" />
<line x1="1150.2" y1="1101.3" x2="1157.2" y2="1101.3" stroke="#15455f" stroke-width="3.4" stroke-linecap="round"/>
<line x1="1150.2" y1="1116.6" x2="1157.2" y2="1116.6" stroke="#15455f" stroke-width="3.4" stroke-linecap="round"/>
<line x1="1153.7" y1="1122.0" x2="1153.7" y2="1136.8" stroke="#8c6d2c" stroke-width="3.4" />
<line x1="1150.2" y1="1122.0" x2="1157.2" y2="1122.0" stroke="#8c6d2c" stroke-width="3.4" stroke-linecap="round"/>
<line x1="1150.2" y1="1136.8" x2="1157.2" y2="1136.8" stroke="#8c6d2c" stroke-width="3.4" stroke-linecap="round"/>
<line x1="1005.8" y1="1202.5" x2="1005.8" y2="1213.3" stroke="#111" stroke-width="3.4" />
<line x1="1002.3" y1="1202.5" x2="1009.3" y2="1202.5" stroke="#111" stroke-width="3.4" stroke-linecap="round"/>
<line x1="1002.3" y1="1213.3" x2="1009.3" y2="1213.3" stroke="#111" stroke-width="3.4" stroke-linecap="round"/>
<line x1="1153.7" y1="1101.3" x2="1153.7" y2="1116.6" stroke="#15455f" stroke-width="3.4" />
<line x1="1150.2" y1="1101.3" x2="1157.2" y2="1101.3" stroke="#15455f" stroke-width="3.4" stroke-linecap="round"/>
<line x1="1150.2" y1="1116.6" x2="1157.2" y2="1116.6" stroke="#15455f" stroke-width="3.4" stroke-linecap="round"/>
<polyline points="1005.8,1209.3 1153.7,1210.7" stroke="#404040" stroke-width="3.2" fill="none" />
<polyline points="1161.5,1214.2 1351.5,1300.7" stroke="#404040" stroke-width="3.2" fill="none" />
<polyline points="1005.8,1113.9 1153.7,1128.3" stroke="#fbd65c" stroke-width="3.2" fill="none" />
<polyline points="1161.5,1133.9 1351.5,1271.0" stroke="#fbd65c" stroke-width="3.2" fill="none" />
<polyline points="1005.8,1122.0 1153.7,1108.5" stroke="#2177a7" stroke-width="3.2" fill="none" />
<polyline points="1161.5,1114.7 1351.5,1266.0" stroke="#2177a7" stroke-width="3.2" fill="none" />
<circle cx="1005.8" cy="1209.3" r="3.8" fill="#404040" stroke="none" stroke-width="0"/>
<circle cx="1153.7" cy="1210.7" r="3.8" fill="#404040" stroke="none" stroke-width="0"/>
<circle cx="1351.5" cy="1300.7" r="3.8" fill="#404040" stroke="none" stroke-width="0"/>
<polygon points="1002.0,1110.6 1009.5,1110.6 1005.8,1117.2" fill="#fbd65c"/>
<polygon points="1150.0,1125.0 1157.5,1125.0 1153.7,1131.6" fill="#fbd65c"/>
<polygon points="1347.7,1267.7 1355.2,1267.7 1351.5,1274.2" fill="#fbd65c"/>
<rect x="1001.8" y="1118.0" width="8.0" height="8.0" fill="#2177a7"/>
<rect x="1149.7" y="1104.5" width="8.0" height="8.0" fill="#2177a7"/>
<rect x="1347.5" y="1262.0" width="8.0" height="8.0" fill="#2177a7"/>
<line x1="1363.2" y1="1232.4" x2="1377.6" y2="1232.4" stroke="#2177a7" stroke-width="2.8" />
<rect x="1367.2" y="1229.2" width="6.5" height="6.5" fill="#2177a7"/>
<text transform="translate(1379.5,1245.6) scale(1,1.07)" font-size="29.4" text-anchor="start" fill="#111" font-weight="normal" >MTC-7b</text>
<line x1="1364.5" y1="1272.0" x2="1379.0" y2="1272.0" stroke="#fbd65c" stroke-width="2.8" />
<polygon points="1367.8,1268.7 1375.2,1268.7 1371.5,1275.3" fill="#fbd65c"/>
<text transform="translate(1381.0,1283.5) scale(1,1.07)" font-size="29.4" text-anchor="start" fill="#111" font-weight="normal" >bAC-7b</text>
<line x1="1365.0" y1="1312.3" x2="1379.5" y2="1312.3" stroke="#404040" stroke-width="2.8" />
<circle cx="1372.0" cy="1312.3" r="3.5" fill="#404040" stroke="none" stroke-width="0"/>
<text transform="translate(1382.0,1321.2) scale(1,1.07)" font-size="29.4" text-anchor="start" fill="#111" font-weight="normal" >ONA</text>
<line x1="953.4" y1="1418.0" x2="953.4" y2="1685.0" stroke="#111" stroke-width="3.6" />
<line x1="947.5" y1="1683.5" x2="953.4" y2="1683.5" stroke="#111" stroke-width="3.6" />
<line x1="950.5" y1="1665.9" x2="953.4" y2="1665.9" stroke="#111" stroke-width="3.6" />
<line x1="950.5" y1="1648.3" x2="953.4" y2="1648.3" stroke="#111" stroke-width="3.6" />
<line x1="950.5" y1="1630.7" x2="953.4" y2="1630.7" stroke="#111" stroke-width="3.6" />
<line x1="950.5" y1="1613.1" x2="953.4" y2="1613.1" stroke="#111" stroke-width="3.6" />
<line x1="947.5" y1="1595.5" x2="953.4" y2="1595.5" stroke="#111" stroke-width="3.6" />
<line x1="950.5" y1="1577.9" x2="953.4" y2="1577.9" stroke="#111" stroke-width="3.6" />
<line x1="950.5" y1="1560.3" x2="953.4" y2="1560.3" stroke="#111" stroke-width="3.6" />
<line x1="950.5" y1="1542.7" x2="953.4" y2="1542.7" stroke="#111" stroke-width="3.6" />
<line x1="950.5" y1="1525.1" x2="953.4" y2="1525.1" stroke="#111" stroke-width="3.6" />
<line x1="947.5" y1="1507.5" x2="953.4" y2="1507.5" stroke="#111" stroke-width="3.6" />
<line x1="950.5" y1="1489.9" x2="953.4" y2="1489.9" stroke="#111" stroke-width="3.6" />
<line x1="950.5" y1="1472.3" x2="953.4" y2="1472.3" stroke="#111" stroke-width="3.6" />
<line x1="950.5" y1="1454.7" x2="953.4" y2="1454.7" stroke="#111" stroke-width="3.6" />
<line x1="950.5" y1="1437.1" x2="953.4" y2="1437.1" stroke="#111" stroke-width="3.6" />
<line x1="947.5" y1="1419.5" x2="953.4" y2="1419.5" stroke="#111" stroke-width="3.6" />
<text x="941.6" y="1692.8" font-size="25" text-anchor="end" fill="#111" font-weight="normal" >0</text>
<text x="941.6" y="1604.8" font-size="25" text-anchor="end" fill="#111" font-weight="normal" >5</text>
<text x="943.6" y="1516.8" font-size="25" text-anchor="end" fill="#111" font-weight="normal" >10</text>
<text x="943.6" y="1428.8" font-size="25" text-anchor="end" fill="#111" font-weight="normal" >15</text>
<line x1="953.4" y1="1683.5" x2="1147.0" y2="1683.5" stroke="#111" stroke-width="3.6" />
<line x1="1155.0" y1="1683.5" x2="1350.0" y2="1683.5" stroke="#111" stroke-width="3.6" />
<line x1="1147.0" y1="1679.0" x2="1147.0" y2="1688.0" stroke="#111" stroke-width="3.6" />
<line x1="1156.0" y1="1679.0" x2="1156.0" y2="1688.0" stroke="#111" stroke-width="3.6" />
<line x1="953.4" y1="1683.5" x2="953.4" y2="1690.0" stroke="#111" stroke-width="3.6" />
<line x1="1001.7" y1="1683.5" x2="1001.7" y2="1690.0" stroke="#111" stroke-width="3.6" />
<line x1="1050.0" y1="1683.5" x2="1050.0" y2="1690.0" stroke="#111" stroke-width="3.6" />
<line x1="1098.4" y1="1683.5" x2="1098.4" y2="1690.0" stroke="#111" stroke-width="3.6" />
<line x1="1181.3" y1="1683.5" x2="1181.3" y2="1690.0" stroke="#111" stroke-width="3.6" />
<line x1="1223.3" y1="1683.5" x2="1223.3" y2="1690.0" stroke="#111" stroke-width="3.6" />
<line x1="1265.3" y1="1683.5" x2="1265.3" y2="1690.0" stroke="#111" stroke-width="3.6" />
<line x1="1307.3" y1="1683.5" x2="1307.3" y2="1690.0" stroke="#111" stroke-width="3.6" />
<line x1="1349.3" y1="1683.5" x2="1349.3" y2="1690.0" stroke="#111" stroke-width="3.6" />
<text x="957.4" y="1713.2" font-size="24.5" text-anchor="middle" fill="#111" font-weight="normal" >0.0</text>
<text x="1005.7" y="1713.2" font-size="24.5" text-anchor="middle" fill="#111" font-weight="normal" >0.5</text>
<text x="1054.0" y="1713.2" font-size="24.5" text-anchor="middle" fill="#111" font-weight="normal" >1.0</text>
<text x="1102.4" y="1713.2" font-size="24.5" text-anchor="middle" fill="#111" font-weight="normal" >1.5</text>
<text x="1150.7" y="1713.2" font-size="24.5" text-anchor="middle" fill="#111" font-weight="normal" >2.0</text>
<text x="1182.8" y="1712.7" font-size="24.5" text-anchor="middle" fill="#111" font-weight="normal" >5</text>
<text x="1224.8" y="1712.7" font-size="24.5" text-anchor="middle" fill="#111" font-weight="normal" >10</text>
<text x="1266.8" y="1712.7" font-size="24.5" text-anchor="middle" fill="#111" font-weight="normal" >15</text>
<text x="1308.8" y="1712.7" font-size="24.5" text-anchor="middle" fill="#111" font-weight="normal" >20</text>
<text x="1350.8" y="1712.7" font-size="24.5" text-anchor="middle" fill="#111" font-weight="normal" >25</text>
<text x="1120.2" y="1743.6" font-size="29.6" text-anchor="start" fill="#111" font-weight="normal" >Time (h)</text>
<text transform="translate(910.5,1540.5) rotate(-90) scale(1,1.05)" font-size="30.2" text-anchor="middle" fill="#111">eGFP+ (%)</text>
<line x1="1001.7" y1="1560.3" x2="1001.7" y2="1574.4" stroke="#8c6d2c" stroke-width="3.4" />
<line x1="998.2" y1="1560.3" x2="1005.2" y2="1560.3" stroke="#8c6d2c" stroke-width="3.4" stroke-linecap="round"/>
<line x1="998.2" y1="1574.4" x2="1005.2" y2="1574.4" stroke="#8c6d2c" stroke-width="3.4" stroke-linecap="round"/>
<line x1="1146.7" y1="1496.9" x2="1146.7" y2="1514.5" stroke="#8c6d2c" stroke-width="3.4" />
<line x1="1143.2" y1="1496.9" x2="1150.2" y2="1496.9" stroke="#8c6d2c" stroke-width="3.4" stroke-linecap="round"/>
<line x1="1143.2" y1="1514.5" x2="1150.2" y2="1514.5" stroke="#8c6d2c" stroke-width="3.4" stroke-linecap="round"/>
<line x1="1146.7" y1="1530.4" x2="1146.7" y2="1549.7" stroke="#15455f" stroke-width="3.4" />
<line x1="1143.2" y1="1530.4" x2="1150.2" y2="1530.4" stroke="#15455f" stroke-width="3.4" stroke-linecap="round"/>
<line x1="1143.2" y1="1549.7" x2="1150.2" y2="1549.7" stroke="#15455f" stroke-width="3.4" stroke-linecap="round"/>
<line x1="1340.9" y1="1490.8" x2="1340.9" y2="1504.0" stroke="#15455f" stroke-width="3.4" />
<line x1="1337.4" y1="1490.8" x2="1344.4" y2="1490.8" stroke="#15455f" stroke-width="3.4" stroke-linecap="round"/>
<line x1="1337.4" y1="1504.0" x2="1344.4" y2="1504.0" stroke="#15455f" stroke-width="3.4" stroke-linecap="round"/>
<polyline points="1001.7,1671.2 1146.7,1637.7" stroke="#404040" stroke-width="3.2" fill="none" />
<polyline points="1155.0,1637.4 1340.9,1630.7" stroke="#404040" stroke-width="3.2" fill="none" />
<polyline points="1001.7,1567.3 1146.7,1505.2" stroke="#fbd65c" stroke-width="3.2" fill="none" />
<polyline points="1155.0,1503.7 1340.9,1468.8" stroke="#fbd65c" stroke-width="3.2" fill="none" />
<polyline points="1001.7,1671.2 1146.7,1540.1" stroke="#2177a7" stroke-width="3.2" fill="none" />
<polyline points="1155.0,1538.3 1340.9,1497.8" stroke="#2177a7" stroke-width="3.2" fill="none" />
<polygon points="998.0,1564.1 1005.5,1564.1 1001.7,1570.6" fill="#fbd65c"/>
<polygon points="1143.0,1501.9 1150.5,1501.9 1146.7,1508.5" fill="#fbd65c"/>
<polygon points="1337.1,1465.5 1344.6,1465.5 1340.9,1472.0" fill="#fbd65c"/>
<rect x="997.7" y="1667.2" width="8.0" height="8.0" fill="#2177a7"/>
<rect x="1142.7" y="1536.1" width="8.0" height="8.0" fill="#2177a7"/>
<rect x="1336.9" y="1493.8" width="8.0" height="8.0" fill="#2177a7"/>
<circle cx="1001.7" cy="1671.2" r="3.9" fill="#404040" stroke="none" stroke-width="0"/>
<circle cx="1146.7" cy="1637.7" r="3.9" fill="#404040" stroke="none" stroke-width="0"/>
<circle cx="1340.9" cy="1630.7" r="3.9" fill="#404040" stroke="none" stroke-width="0"/>
<line x1="1351.2" y1="1466.9" x2="1364.4" y2="1466.9" stroke="#fbd65c" stroke-width="2.8" />
<polygon points="1354.0,1463.6 1361.5,1463.6 1357.8,1470.2" fill="#fbd65c"/>
<text transform="translate(1366.8,1479.1) scale(1,1.07)" font-size="29.4" text-anchor="start" fill="#111" font-weight="normal" >bAC-7b</text>
<line x1="1351.2" y1="1496.4" x2="1364.4" y2="1496.4" stroke="#2177a7" stroke-width="2.8" />
<rect x="1354.5" y="1493.2" width="6.5" height="6.5" fill="#2177a7"/>
<text transform="translate(1366.8,1516.3) scale(1,1.07)" font-size="29.4" text-anchor="start" fill="#111" font-weight="normal" >MTC-7b</text>
<line x1="1351.2" y1="1630.3" x2="1364.4" y2="1630.3" stroke="#404040" stroke-width="2.8" />
<circle cx="1357.8" cy="1630.3" r="3.5" fill="#404040" stroke="none" stroke-width="0"/>
<text transform="translate(1367.5,1639.2) scale(1,1.07)" font-size="29.4" text-anchor="start" fill="#111" font-weight="normal" >ONA</text>
<text transform="translate(169.4,218.4) scale(1,1.07)" font-size="29.3" text-anchor="start" fill="#111" font-weight="normal" >ONA</text>
<text transform="translate(169.4,453.8) scale(1,1.07)" font-size="29.3" text-anchor="start" fill="#111" font-weight="normal" >MTC-7b</text>
<text transform="translate(169.4,656.8) scale(1,1.07)" font-size="29.3" text-anchor="start" fill="#111" font-weight="normal" >bAC-7b</text>
<line x1="154.0" y1="125.2" x2="164.8" y2="106.6" stroke="#1c1a1b" stroke-width="1.6" />
<line x1="153.5" y1="123.1" x2="156.1" y2="124.6" stroke="#1c1a1b" stroke-width="0.9" />
<line x1="154.2" y1="121.8" x2="156.8" y2="123.3" stroke="#1c1a1b" stroke-width="0.9" />
<line x1="155.0" y1="120.5" x2="157.6" y2="122.0" stroke="#1c1a1b" stroke-width="0.9" />
<line x1="155.8" y1="119.1" x2="158.4" y2="120.6" stroke="#1c1a1b" stroke-width="0.9" />
<line x1="156.6" y1="117.8" x2="159.2" y2="119.3" stroke="#1c1a1b" stroke-width="0.9" />
<line x1="157.3" y1="116.5" x2="159.9" y2="118.0" stroke="#1c1a1b" stroke-width="0.9" />
<line x1="158.1" y1="115.1" x2="160.7" y2="116.7" stroke="#1c1a1b" stroke-width="0.9" />
<line x1="158.9" y1="113.8" x2="161.5" y2="115.3" stroke="#1c1a1b" stroke-width="0.9" />
<line x1="159.6" y1="112.5" x2="162.2" y2="114.0" stroke="#1c1a1b" stroke-width="0.9" />
<line x1="160.4" y1="111.2" x2="163.0" y2="112.7" stroke="#1c1a1b" stroke-width="0.9" />
<line x1="161.2" y1="109.8" x2="163.8" y2="111.3" stroke="#1c1a1b" stroke-width="0.9" />
<line x1="162.0" y1="108.5" x2="164.6" y2="110.0" stroke="#1c1a1b" stroke-width="0.9" />
<line x1="162.7" y1="107.2" x2="165.3" y2="108.7" stroke="#1c1a1b" stroke-width="0.9" />
<polyline points="160.4,116.8 170.8,122.2" stroke="#1c1a1b" stroke-width="1.3" fill="none" stroke-linejoin="miter" stroke-linecap="butt"/>
<text x="176.8" y="129.2" font-size="11.2" text-anchor="middle" fill="#1c1a1b" font-weight="normal" >O</text>
<polyline points="181.0,122.2 194.2,115.6 211.6,125.8 223.0,119.2" stroke="#1c1a1b" stroke-width="1.3" fill="none" stroke-linejoin="miter" stroke-linecap="butt"/>
<line x1="192.9" y1="115.6" x2="192.9" y2="101.8" stroke="#1c1a1b" stroke-width="1.3" />
<line x1="195.5" y1="115.6" x2="195.5" y2="101.8" stroke="#1c1a1b" stroke-width="1.3" />
<text x="194.2" y="99.8" font-size="11.2" text-anchor="middle" fill="#1c1a1b" font-weight="normal" >O</text>
<text x="229.0" y="120.2" font-size="11.2" text-anchor="middle" fill="#1c1a1b" font-weight="normal" >N</text>
<text x="231.6" y="108.8" font-size="11" text-anchor="middle" fill="#1c1a1b" font-weight="normal" >H</text>
<text x="236.4" y="109.6" font-size="8" text-anchor="middle" fill="#1c1a1b" font-weight="normal" >2</text>
<g stroke="#3c5db6" stroke-width="1.1">
<line x1="224.2" y1="128.8" x2="233.2" y2="128.8" stroke="#3c5db6" stroke-width="1.1" />
<line x1="228.6" y1="124.6" x2="228.6" y2="133.0" stroke="#3c5db6" stroke-width="1.1" />
</g>
<polyline points="235.6,119.2 246.4,125.8 264.4,115.6 275.2,122.2" stroke="#1c1a1b" stroke-width="1.3" fill="none" stroke-linejoin="miter" stroke-linecap="butt"/>
<text x="281.2" y="129.2" font-size="11.2" text-anchor="middle" fill="#1c1a1b" font-weight="normal" >O</text>
<polyline points="287.2,123.4 305.8,113.2" stroke="#1c1a1b" stroke-width="1.3" fill="none" stroke-linejoin="miter" stroke-linecap="butt"/>
<path d="M185.9,110.2 Q181.0,120.4 185.9,130.6" stroke="#1c1a1b" stroke-width="1.4" fill="none"/>
<path d="M296.7,107.8 Q301.6,118.3 296.7,128.8" stroke="#1c1a1b" stroke-width="1.4" fill="none"/>
<text x="312.4" y="114.8" font-size="11.2" text-anchor="middle" fill="#1c1a1b" font-weight="normal" >H</text>
<text x="299.8" y="142.2" font-size="10.5" text-anchor="middle" fill="#1c1a1b" font-weight="normal" >n</text>
<text x="408.4" y="74.8" font-size="19.4" text-anchor="middle" fill="#111" font-weight="normal" >Charge</text>
<text x="408.1" y="100.0" font-size="19.4" text-anchor="middle" fill="#111" font-weight="normal" >alteration</text>
<line x1="364.6" y1="117.4" x2="440.0" y2="117.4" stroke="#111" stroke-width="1.3" />
<polygon points="457,117.4 432.4,111.4 437.5,117.4 432.4,124" fill="#111"/>
<text x="504.2" y="104.4" font-size="11.2" text-anchor="middle" fill="#1c1a1b" font-weight="normal" >HO</text>
<polyline points="513.4,103.4 525.4,110.4 542.2,100.4 553.6,106.4" stroke="#1c1a1b" stroke-width="1.3" fill="none" stroke-linejoin="miter" stroke-linecap="butt"/>
<text x="560.2" y="114.6" font-size="11.2" text-anchor="middle" fill="#1c1a1b" font-weight="normal" >N</text>
<polyline points="566.8,106.4 578.2,100.4 595.6,110.4 595.6,123.8" stroke="#1c1a1b" stroke-width="1.3" fill="none" stroke-linejoin="miter" stroke-linecap="butt"/>
<line x1="576.9" y1="100.4" x2="576.9" y2="86.6" stroke="#1c1a1b" stroke-width="1.3" />
<line x1="579.5" y1="100.4" x2="579.5" y2="86.6" stroke="#1c1a1b" stroke-width="1.3" />
<text x="577.6" y="84.4" font-size="11.2" text-anchor="middle" fill="#1c1a1b" font-weight="normal" >O</text>
<text x="595.0" y="134.4" font-size="11.2" text-anchor="middle" fill="#1c1a1b" font-weight="normal" >N</text>
<polyline points="589.0,134.0 578.2,140.4 559.6,130.4 559.6,115.4" stroke="#1c1a1b" stroke-width="1.3" fill="none" stroke-linejoin="miter" stroke-linecap="butt"/>
<line x1="579.5" y1="140.4" x2="579.5" y2="153.8" stroke="#1c1a1b" stroke-width="1.3" />
<line x1="576.9" y1="140.4" x2="576.9" y2="153.8" stroke="#1c1a1b" stroke-width="1.3" />
<text x="577.6" y="164.4" font-size="11.2" text-anchor="middle" fill="#1c1a1b" font-weight="normal" >O</text>
<polyline points="601.6,134.0 612.4,140.4 629.8,130.4 640.6,137.0" stroke="#1c1a1b" stroke-width="1.3" fill="none" stroke-linejoin="miter" stroke-linecap="butt"/>
<text x="651.4" y="144.6" font-size="11.2" text-anchor="middle" fill="#1c1a1b" font-weight="normal" >OH</text>
<polyline points="337.2,189.4 353.4,198.4 353.4,216.4 337.2,225.8 321.2,216.4 321.2,198.4 337.2,189.4" stroke="#1c1a1b" stroke-width="1.3" fill="none" stroke-linejoin="miter" stroke-linecap="butt"/>
<line x1="325.6" y1="200.8" x2="325.6" y2="214.0" stroke="#1c1a1b" stroke-width="1.3" />
<line x1="338.4" y1="193.8" x2="349.8" y2="200.4" stroke="#1c1a1b" stroke-width="1.3" />
<line x1="338.4" y1="221.4" x2="349.8" y2="214.7" stroke="#1c1a1b" stroke-width="1.3" />
<polyline points="353.4,198.4 369.0,189.4 378.6,194.8" stroke="#1c1a1b" stroke-width="1.3" fill="none" stroke-linejoin="miter" stroke-linecap="butt"/>
<text x="383.6" y="202.7" font-size="11.2" text-anchor="middle" fill="#1c1a1b" font-weight="normal" >O</text>
<polyline points="388.8,196.0 406.2,189.4 416.4,195.4" stroke="#1c1a1b" stroke-width="1.3" fill="none" stroke-linejoin="miter" stroke-linecap="butt"/>
<path d="M394.9,184.6 Q390.0,194.2 394.9,203.8" stroke="#1c1a1b" stroke-width="1.4" fill="none"/>
<line x1="404.9" y1="189.4" x2="404.9" y2="177.4" stroke="#1c1a1b" stroke-width="1.3" />
<line x1="407.5" y1="189.4" x2="407.5" y2="177.4" stroke="#1c1a1b" stroke-width="1.3" />
<text x="405.6" y="175.8" font-size="11.2" text-anchor="middle" fill="#1c1a1b" font-weight="normal" >O</text>
<text x="421.2" y="202.7" font-size="11.2" text-anchor="middle" fill="#1c1a1b" font-weight="normal" >O</text>
<polyline points="426.0,196.0 436.8,189.4 452.4,198.4 468.0,189.4 478.2,195.4" stroke="#1c1a1b" stroke-width="1.3" fill="none" stroke-linejoin="miter" stroke-linecap="butt"/>
<polyline points="452.4,198.4 452.4,181.0" stroke="#1c1a1b" stroke-width="1.3" fill="none" stroke-linejoin="miter" stroke-linecap="butt"/>
<text x="483.0" y="202.7" font-size="11.2" text-anchor="middle" fill="#1c1a1b" font-weight="normal" >O</text>
<polyline points="452.4,198.4 452.4,216.4 462.6,222.4" stroke="#1c1a1b" stroke-width="1.3" fill="none" stroke-linejoin="miter" stroke-linecap="butt"/>
<line x1="453.1" y1="217.5" x2="441.7" y2="224.1" stroke="#1c1a1b" stroke-width="1.3" />
<line x1="451.8" y1="215.3" x2="440.4" y2="221.9" stroke="#1c1a1b" stroke-width="1.3" />
<text x="436.8" y="229.4" font-size="11.2" text-anchor="middle" fill="#1c1a1b" font-weight="normal" >O</text>
<text x="467.4" y="229.4" font-size="11.2" text-anchor="middle" fill="#1c1a1b" font-weight="normal" >O</text>
<polyline points="488.4,196.6 512.4,188.2 522.6,194.2" stroke="#1c1a1b" stroke-width="1.3" fill="none" stroke-linejoin="miter" stroke-linecap="butt"/>
<path d="M497.3,184.6 Q502.2,193.9 497.3,203.2" stroke="#1c1a1b" stroke-width="1.4" fill="none"/>
<path d="M505.9,184.6 Q501.0,193.9 505.9,203.2" stroke="#1c1a1b" stroke-width="1.4" fill="none"/>
<text x="504.6" y="215.4" font-size="10.5" text-anchor="middle" fill="#1c1a1b" font-weight="normal" >5</text>
<line x1="511.1" y1="188.2" x2="511.1" y2="176.8" stroke="#1c1a1b" stroke-width="1.3" />
<line x1="513.7" y1="188.2" x2="513.7" y2="176.8" stroke="#1c1a1b" stroke-width="1.3" />
<text x="512.6" y="174.6" font-size="11.2" text-anchor="middle" fill="#1c1a1b" font-weight="normal" >O</text>
<text x="528.0" y="201.5" font-size="11.2" text-anchor="middle" fill="#1c1a1b" font-weight="normal" >O</text>
<polyline points="532.8,194.8 543.6,188.4 559.0,197.2 574.8,188.4 585.0,194.8" stroke="#1c1a1b" stroke-width="1.3" fill="none" stroke-linejoin="miter" stroke-linecap="butt"/>
<polyline points="559.0,197.2 559.0,179.8" stroke="#1c1a1b" stroke-width="1.3" fill="none" stroke-linejoin="miter" stroke-linecap="butt"/>
<text x="589.8" y="201.5" font-size="11.2" text-anchor="middle" fill="#1c1a1b" font-weight="normal" >O</text>
<polyline points="595.2,195.4 614.4,188.8" stroke="#1c1a1b" stroke-width="1.3" fill="none" stroke-linejoin="miter" stroke-linecap="butt"/>
<path d="M603.5,184.0 Q608.4,193.3 603.5,202.6" stroke="#1c1a1b" stroke-width="1.4" fill="none"/>
<text x="596.4" y="216.6" font-size="10.5" text-anchor="middle" fill="#1c1a1b" font-weight="normal" >5</text>
<line x1="613.2" y1="179.8" x2="619.2" y2="197.8" stroke="#1c1a1b" stroke-width="1.6" />
<line x1="615.1" y1="180.8" x2="612.3" y2="181.8" stroke="#1c1a1b" stroke-width="0.9" />
<line x1="615.6" y1="182.3" x2="612.8" y2="183.3" stroke="#1c1a1b" stroke-width="0.9" />
<line x1="616.1" y1="183.8" x2="613.3" y2="184.8" stroke="#1c1a1b" stroke-width="0.9" />
<line x1="616.6" y1="185.3" x2="613.8" y2="186.3" stroke="#1c1a1b" stroke-width="0.9" />
<line x1="617.1" y1="186.8" x2="614.3" y2="187.8" stroke="#1c1a1b" stroke-width="0.9" />
<line x1="617.6" y1="188.3" x2="614.8" y2="189.3" stroke="#1c1a1b" stroke-width="0.9" />
<line x1="618.1" y1="189.8" x2="615.3" y2="190.8" stroke="#1c1a1b" stroke-width="0.9" />
<line x1="618.6" y1="191.3" x2="615.8" y2="192.3" stroke="#1c1a1b" stroke-width="0.9" />
<line x1="619.1" y1="192.8" x2="616.3" y2="193.8" stroke="#1c1a1b" stroke-width="0.9" />
<line x1="619.6" y1="194.3" x2="616.8" y2="195.3" stroke="#1c1a1b" stroke-width="0.9" />
<line x1="620.1" y1="195.8" x2="617.3" y2="196.8" stroke="#1c1a1b" stroke-width="0.9" />
<polyline points="559.0,197.2 559.0,215.2 569.4,221.4" stroke="#1c1a1b" stroke-width="1.3" fill="none" stroke-linejoin="miter" stroke-linecap="butt"/>
<line x1="559.7" y1="216.3" x2="549.1" y2="222.9" stroke="#1c1a1b" stroke-width="1.3" />
<line x1="558.3" y1="214.1" x2="547.7" y2="220.7" stroke="#1c1a1b" stroke-width="1.3" />
<text x="543.6" y="228.6" font-size="11.2" text-anchor="middle" fill="#1c1a1b" font-weight="normal" >O</text>
<text x="574.4" y="228.6" font-size="11.2" text-anchor="middle" fill="#1c1a1b" font-weight="normal" >O</text>
<polyline points="467.6,231.6 467.6,243.0 483.0,252.0 483.0,270.0 498.6,279.0 498.6,297.0 514.2,306.0 514.2,324.0 498.6,332.8 483.0,324.0 467.6,332.8 467.6,350.8 452.2,359.4 437.0,350.8 421.4,359.4 405.8,350.8 390.6,359.4 375.0,350.8 359.4,359.4" stroke="#1c1a1b" stroke-width="1.3" fill="none" stroke-linejoin="miter" stroke-linecap="butt"/>
<line x1="471.2" y1="334.2" x2="483.2" y2="327.6" stroke="#1c1a1b" stroke-width="1.3" />
<polyline points="574.4,230.0 574.4,241.6 590.0,250.8 590.0,268.4 605.6,277.6 605.6,295.6 590.0,304.4 590.0,322.0 605.6,331.2 621.2,322.0" stroke="#1c1a1b" stroke-width="1.3" fill="none" stroke-linejoin="miter" stroke-linecap="butt"/>
<line x1="593.0" y1="306.8" x2="593.0" y2="320.4" stroke="#1c1a1b" stroke-width="1.3" />
<line x1="527.9" y1="389.9" x2="527.9" y2="377.2" stroke="#1c1a1b" stroke-width="1.3" />
<line x1="530.5" y1="389.9" x2="530.5" y2="377.2" stroke="#1c1a1b" stroke-width="1.3" />
<text x="529.2" y="375.6" font-size="11.2" text-anchor="middle" fill="#1c1a1b" font-weight="normal" >O</text>
<polyline points="518.9,395.5 529.2,389.9 544.7,398.8 559.6,407.2" stroke="#1c1a1b" stroke-width="1.3" fill="none" stroke-linejoin="miter" stroke-linecap="butt"/>
<text x="513.3" y="402.7" font-size="11.2" text-anchor="middle" fill="#1c1a1b" font-weight="normal" >O</text>
<polyline points="513.3,404.4 513.3,416.0 498.0,425.0 498.0,443.1 482.5,451.8" stroke="#1c1a1b" stroke-width="1.3" fill="none" stroke-linejoin="miter" stroke-linecap="butt"/>
<polyline points="544.7,398.8 560.0,389.5 570.3,395.5" stroke="#1c1a1b" stroke-width="1.3" fill="none" stroke-linejoin="miter" stroke-linecap="butt"/>
<text x="575.5" y="402.7" font-size="11.2" text-anchor="middle" fill="#1c1a1b" font-weight="normal" >O</text>
<polyline points="580.5,395.5 590.8,389.9 606.3,398.6 622.2,389.9 637.5,398.6 653.0,389.9 668.3,398.6 684.1,389.9 700.0,398.6" stroke="#1c1a1b" stroke-width="1.3" fill="none" stroke-linejoin="miter" stroke-linecap="butt"/>
<line x1="589.5" y1="389.9" x2="589.5" y2="377.2" stroke="#1c1a1b" stroke-width="1.3" />
<line x1="592.1" y1="389.9" x2="592.1" y2="377.2" stroke="#1c1a1b" stroke-width="1.3" />
<text x="590.8" y="375.6" font-size="11.2" text-anchor="middle" fill="#1c1a1b" font-weight="normal" >O</text>
<polyline points="544.7,398.8 544.7,416.0 555.3,422.0" stroke="#1c1a1b" stroke-width="1.3" fill="none" stroke-linejoin="miter" stroke-linecap="butt"/>
<text x="560.0" y="429.4" font-size="11.2" text-anchor="middle" fill="#1c1a1b" font-weight="normal" >O</text>
<polyline points="560.0,430.6 560.0,443.1 575.5,451.8 590.8,443.1 606.3,451.8 622.2,443.1 637.5,451.8 653.0,443.1 668.3,451.8" stroke="#1c1a1b" stroke-width="1.3" fill="none" stroke-linejoin="miter" stroke-linecap="butt"/>
<line x1="560.6" y1="444.2" x2="549.8" y2="450.4" stroke="#1c1a1b" stroke-width="1.3" />
<line x1="559.4" y1="441.9" x2="548.5" y2="448.1" stroke="#1c1a1b" stroke-width="1.3" />
<text x="544.5" y="455.9" font-size="11.2" text-anchor="middle" fill="#1c1a1b" font-weight="normal" >O</text>
<polyline points="482.6,450.3 482.6,469.9 467.1,479.2 467.1,491.9" stroke="#1c1a1b" stroke-width="1.3" fill="none" stroke-linejoin="miter" stroke-linecap="butt"/>
<text x="467.1" y="500.4" font-size="11.2" text-anchor="middle" fill="#1c1a1b" font-weight="normal" >O</text>
<polyline points="462.4,499.7 452.1,505.3 452.1,524.0 452.1,541.7" stroke="#1c1a1b" stroke-width="1.3" fill="none" stroke-linejoin="miter" stroke-linecap="butt"/>
<line x1="451.5" y1="506.5" x2="440.7" y2="500.5" stroke="#1c1a1b" stroke-width="1.3" />
<line x1="452.8" y1="504.2" x2="441.9" y2="498.2" stroke="#1c1a1b" stroke-width="1.3" />
<text x="436.3" y="501.0" font-size="11.2" text-anchor="middle" fill="#1c1a1b" font-weight="normal" >O</text>
<polyline points="452.1,524.0 436.3,532.4 425.4,526.6" stroke="#1c1a1b" stroke-width="1.3" fill="none" stroke-linejoin="miter" stroke-linecap="butt"/>
<text x="420.4" y="528.0" font-size="11.2" text-anchor="middle" fill="#1c1a1b" font-weight="normal" >O</text>
<polyline points="415.4,526.6 405.5,531.8 383.1,526.6" stroke="#1c1a1b" stroke-width="1.3" fill="none" stroke-linejoin="miter" stroke-linecap="butt"/>
<line x1="406.8" y1="531.8" x2="406.8" y2="545.5" stroke="#1c1a1b" stroke-width="1.3" />
<line x1="404.2" y1="531.8" x2="404.2" y2="545.5" stroke="#1c1a1b" stroke-width="1.3" />
<text x="405.5" y="554.5" font-size="11.2" text-anchor="middle" fill="#1c1a1b" font-weight="normal" >O</text>
<path d="M390.9,518.4 Q386.0,527.7 390.9,537.1" stroke="#1c1a1b" stroke-width="1.4" fill="none"/>
<text x="378.0" y="528.0" font-size="11.2" text-anchor="middle" fill="#1c1a1b" font-weight="normal" >O</text>
<polyline points="372.8,526.6 362.5,532.4 347.6,524.0" stroke="#1c1a1b" stroke-width="1.3" fill="none" stroke-linejoin="miter" stroke-linecap="butt"/>
<polyline points="331.7,496.9 347.6,506.3 347.6,524.0 331.7,532.8 315.9,524.0 315.9,506.3 331.7,496.9" stroke="#1c1a1b" stroke-width="1.3" fill="none" stroke-linejoin="miter" stroke-linecap="butt"/>
<line x1="319.2" y1="506.8" x2="330.8" y2="500.1" stroke="#1c1a1b" stroke-width="1.3" />
<line x1="344.1" y1="508.3" x2="344.1" y2="522.1" stroke="#1c1a1b" stroke-width="1.3" />
<line x1="319.2" y1="523.6" x2="330.8" y2="530.0" stroke="#1c1a1b" stroke-width="1.3" />
<polyline points="452.1,524.0 468.0,532.4 477.7,527.0" stroke="#1c1a1b" stroke-width="1.3" fill="none" stroke-linejoin="miter" stroke-linecap="butt"/>
<text x="482.6" y="528.0" font-size="11.2" text-anchor="middle" fill="#1c1a1b" font-weight="normal" >O</text>
<polyline points="487.6,526.6 504.4,535.2" stroke="#1c1a1b" stroke-width="1.3" fill="none" stroke-linejoin="miter" stroke-linecap="butt"/>
<path d="M494.7,521.2 Q499.6,530.5 494.7,539.9" stroke="#1c1a1b" stroke-width="1.4" fill="none"/>
<text x="487.2" y="546.8" font-size="10.5" text-anchor="middle" fill="#1c1a1b" font-weight="normal" >8</text>
<line x1="510.9" y1="528.7" x2="502.5" y2="545.5" stroke="#1c1a1b" stroke-width="1.6" />
<line x1="511.6" y1="530.7" x2="508.9" y2="529.4" stroke="#1c1a1b" stroke-width="0.9" />
<line x1="510.9" y1="532.1" x2="508.2" y2="530.8" stroke="#1c1a1b" stroke-width="0.9" />
<line x1="510.2" y1="533.5" x2="507.5" y2="532.2" stroke="#1c1a1b" stroke-width="0.9" />
<line x1="509.5" y1="534.9" x2="506.8" y2="533.6" stroke="#1c1a1b" stroke-width="0.9" />
<line x1="508.8" y1="536.3" x2="506.1" y2="535.0" stroke="#1c1a1b" stroke-width="0.9" />
<line x1="508.1" y1="537.7" x2="505.4" y2="536.4" stroke="#1c1a1b" stroke-width="0.9" />
<line x1="507.4" y1="539.1" x2="504.7" y2="537.8" stroke="#1c1a1b" stroke-width="0.9" />
<line x1="506.7" y1="540.5" x2="504.0" y2="539.2" stroke="#1c1a1b" stroke-width="0.9" />
<line x1="506.0" y1="541.9" x2="503.3" y2="540.6" stroke="#1c1a1b" stroke-width="0.9" />
<line x1="505.3" y1="543.3" x2="502.6" y2="542.0" stroke="#1c1a1b" stroke-width="0.9" />
<line x1="504.6" y1="544.7" x2="501.9" y2="543.4" stroke="#1c1a1b" stroke-width="0.9" />
<line x1="517.6" y1="602.7" x2="517.6" y2="589.0" stroke="#1c1a1b" stroke-width="1.3" />
<line x1="520.2" y1="602.7" x2="520.2" y2="589.0" stroke="#1c1a1b" stroke-width="1.3" />
<text x="518.9" y="587.5" font-size="11.2" text-anchor="middle" fill="#1c1a1b" font-weight="normal" >O</text>
<polyline points="508.7,608.3 518.9,602.7 534.2,610.7 549.7,619.5" stroke="#1c1a1b" stroke-width="1.3" fill="none" stroke-linejoin="miter" stroke-linecap="butt"/>
<text x="503.4" y="614.7" font-size="11.2" text-anchor="middle" fill="#1c1a1b" font-weight="normal" >O</text>
<polyline points="503.4,616.3 503.4,628.8 488.1,637.2 488.1,655.5 472.6,664.3" stroke="#1c1a1b" stroke-width="1.3" fill="none" stroke-linejoin="miter" stroke-linecap="butt"/>
<polyline points="534.2,610.7 549.7,601.7 560.0,607.3" stroke="#1c1a1b" stroke-width="1.3" fill="none" stroke-linejoin="miter" stroke-linecap="butt"/>
<text x="565.2" y="614.7" font-size="11.2" text-anchor="middle" fill="#1c1a1b" font-weight="normal" >O</text>
<polyline points="570.3,607.3 580.5,601.7 596.0,610.7 611.7,601.7 627.2,610.7 642.7,601.7 658.2,610.7 673.9,601.7 689.4,610.7" stroke="#1c1a1b" stroke-width="1.3" fill="none" stroke-linejoin="miter" stroke-linecap="butt"/>
<line x1="579.2" y1="601.7" x2="579.2" y2="589.0" stroke="#1c1a1b" stroke-width="1.3" />
<line x1="581.8" y1="601.7" x2="581.8" y2="589.0" stroke="#1c1a1b" stroke-width="1.3" />
<text x="580.5" y="587.5" font-size="11.2" text-anchor="middle" fill="#1c1a1b" font-weight="normal" >O</text>
<polyline points="534.2,610.7 534.2,628.8 544.7,634.8" stroke="#1c1a1b" stroke-width="1.3" fill="none" stroke-linejoin="miter" stroke-linecap="butt"/>
<text x="549.7" y="641.6" font-size="11.2" text-anchor="middle" fill="#1c1a1b" font-weight="normal" >O</text>
<polyline points="549.7,642.8 549.7,655.5 565.2,664.3 580.5,655.5 596.0,664.3 611.7,655.5 627.2,664.3 642.7,655.5 658.2,664.3" stroke="#1c1a1b" stroke-width="1.3" fill="none" stroke-linejoin="miter" stroke-linecap="butt"/>
<line x1="550.4" y1="656.6" x2="539.6" y2="663.0" stroke="#1c1a1b" stroke-width="1.3" />
<line x1="549.1" y1="654.4" x2="538.3" y2="660.7" stroke="#1c1a1b" stroke-width="1.3" />
<text x="534.2" y="668.3" font-size="11.2" text-anchor="middle" fill="#1c1a1b" font-weight="normal" >O</text>
<polyline points="472.7,663.4 472.7,681.7 457.4,690.7 457.4,704.5" stroke="#1c1a1b" stroke-width="1.3" fill="none" stroke-linejoin="miter" stroke-linecap="butt"/>
<line x1="456.7" y1="691.8" x2="446.3" y2="685.8" stroke="#1c1a1b" stroke-width="1.3" />
<line x1="458.0" y1="689.6" x2="447.6" y2="683.6" stroke="#1c1a1b" stroke-width="1.3" />
<text x="441.5" y="686.1" font-size="11.2" text-anchor="middle" fill="#1c1a1b" font-weight="normal" >O</text>
<text x="457.4" y="713.4" font-size="11.2" text-anchor="middle" fill="#1c1a1b" font-weight="normal" >N</text>
<polyline points="450.8,713.5 441.9,718.1 426.9,709.4 415.7,714.8" stroke="#1c1a1b" stroke-width="1.3" fill="none" stroke-linejoin="miter" stroke-linecap="butt"/>
<text x="410.5" y="721.2" font-size="11.2" text-anchor="middle" fill="#1c1a1b" font-weight="normal" >O</text>
<polyline points="405.5,714.8 395.2,709.4 375.6,715.0" stroke="#1c1a1b" stroke-width="1.3" fill="none" stroke-linejoin="miter" stroke-linecap="butt"/>
<line x1="393.9" y1="709.4" x2="393.9" y2="696.3" stroke="#1c1a1b" stroke-width="1.3" />
<line x1="396.5" y1="709.4" x2="396.5" y2="696.3" stroke="#1c1a1b" stroke-width="1.3" />
<text x="395.2" y="694.7" font-size="11.2" text-anchor="middle" fill="#1c1a1b" font-weight="normal" >O</text>
<path d="M383.4,704.1 Q378.5,713.5 383.4,722.8" stroke="#1c1a1b" stroke-width="1.4" fill="none"/>
<text x="370.9" y="721.2" font-size="11.2" text-anchor="middle" fill="#1c1a1b" font-weight="normal" >O</text>
<polyline points="366.3,714.8 355.1,709.4 340.1,718.1" stroke="#1c1a1b" stroke-width="1.3" fill="none" stroke-linejoin="miter" stroke-linecap="butt"/>
<polyline points="324.3,709.4 340.1,718.1 340.1,735.9 324.3,744.8 309.0,735.9 309.0,718.1 324.3,709.4" stroke="#1c1a1b" stroke-width="1.3" fill="none" stroke-linejoin="miter" stroke-linecap="butt"/>
<line x1="312.7" y1="720.0" x2="312.7" y2="734.4" stroke="#1c1a1b" stroke-width="1.3" />
<line x1="325.8" y1="713.5" x2="337.0" y2="720.0" stroke="#1c1a1b" stroke-width="1.3" />
<line x1="325.8" y1="740.9" x2="337.0" y2="734.4" stroke="#1c1a1b" stroke-width="1.3" />
<polyline points="463.9,713.5 472.7,718.1 488.5,709.4 498.2,714.8" stroke="#1c1a1b" stroke-width="1.3" fill="none" stroke-linejoin="miter" stroke-linecap="butt"/>
<text x="503.1" y="721.2" font-size="11.2" text-anchor="middle" fill="#1c1a1b" font-weight="normal" >O</text>
<polyline points="508.1,715.3 531.5,709.4" stroke="#1c1a1b" stroke-width="1.3" fill="none" stroke-linejoin="miter" stroke-linecap="butt"/>
<path d="M516.2,704.1 Q521.1,713.5 516.2,722.8" stroke="#1c1a1b" stroke-width="1.4" fill="none"/>
<text x="523.1" y="734.4" font-size="10.5" text-anchor="middle" fill="#1c1a1b" font-weight="normal" >10</text>
<line x1="527.7" y1="700.0" x2="533.7" y2="718.1" stroke="#1c1a1b" stroke-width="1.6" />
<line x1="529.7" y1="701.1" x2="526.8" y2="702.0" stroke="#1c1a1b" stroke-width="0.9" />
<line x1="530.2" y1="702.6" x2="527.3" y2="703.5" stroke="#1c1a1b" stroke-width="0.9" />
<line x1="530.7" y1="704.1" x2="527.8" y2="705.0" stroke="#1c1a1b" stroke-width="0.9" />
<line x1="531.2" y1="705.6" x2="528.3" y2="706.5" stroke="#1c1a1b" stroke-width="0.9" />
<line x1="531.7" y1="707.1" x2="528.8" y2="708.0" stroke="#1c1a1b" stroke-width="0.9" />
<line x1="532.2" y1="708.6" x2="529.3" y2="709.6" stroke="#1c1a1b" stroke-width="0.9" />
<line x1="532.6" y1="710.1" x2="529.8" y2="711.1" stroke="#1c1a1b" stroke-width="0.9" />
<line x1="533.1" y1="711.6" x2="530.3" y2="712.6" stroke="#1c1a1b" stroke-width="0.9" />
<line x1="533.6" y1="713.1" x2="530.8" y2="714.1" stroke="#1c1a1b" stroke-width="0.9" />
<line x1="534.1" y1="714.6" x2="531.3" y2="715.6" stroke="#1c1a1b" stroke-width="0.9" />
<line x1="534.6" y1="716.2" x2="531.8" y2="717.1" stroke="#1c1a1b" stroke-width="0.9" />
</svg>
</body></html>
